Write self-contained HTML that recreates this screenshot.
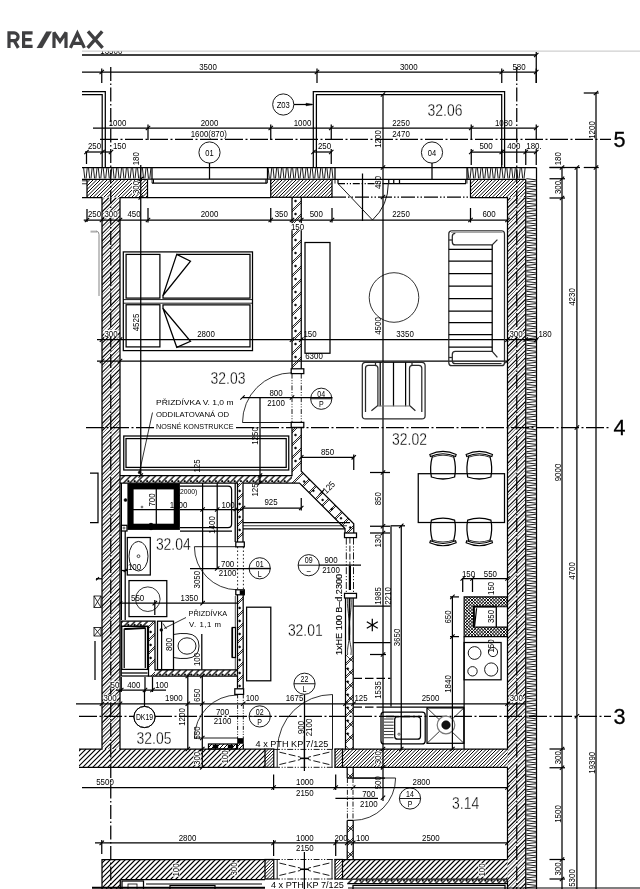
<!DOCTYPE html><html><head><meta charset="utf-8"><title>Floor plan</title><style>html,body{margin:0;padding:0;background:#fff}body{width:640px;height:889px;overflow:hidden;font-family:"Liberation Sans",sans-serif}svg text{stroke:none;fill:#000;font-family:"Liberation Sans",sans-serif}svg text.th{stroke:#fff;stroke-width:.3px;fill:#000}</style></head><body><svg width="640" height="889" viewBox="0 0 640 889" fill="none" stroke="#000" stroke-width="1.25" font-family="Liberation Sans, sans-serif" style="display:block;will-change:transform"><defs><clipPath id="c1"><path d="M87 179.5L147.5 179.5L147.5 197.5L87 197.5Z"/></clipPath><clipPath id="c2"><path d="M102 197.5L120 197.5L120 749L102 749Z"/></clipPath><clipPath id="c3"><path d="M102 197.5L120 197.5L120 749L102 749Z"/></clipPath><clipPath id="c4"><path d="M79 749L265 749L265 767.3L79 767.3Z"/></clipPath><clipPath id="c5"><path d="M270.75 179.5L332 179.5L332 197.3L270.75 197.3Z"/></clipPath><clipPath id="c6"><path d="M470.5 179.5L525.75 179.5L525.75 197.5L470.5 197.5Z"/></clipPath><clipPath id="c7"><path d="M507.5 197.5L525.75 197.5L525.75 889L507.5 889Z"/></clipPath><clipPath id="c8"><path d="M507.5 197.5L525.75 197.5L525.75 889L507.5 889Z"/></clipPath><clipPath id="c9"><path d="M342.5 749L507.5 749L507.5 767.3L342.5 767.3Z"/></clipPath><clipPath id="c10"><path d="M342.5 859.5L507.5 859.5L507.5 879L342.5 879Z"/></clipPath><clipPath id="c11"><path d="M102 859.5L265 859.5L265 879.5L120.3 879.5L120.3 889L102 889Z"/></clipPath><clipPath id="c12"><path d="M265 749L273.75 749L273.75 767.3L265 767.3Z"/></clipPath><clipPath id="c13"><path d="M335 749L342.5 749L342.5 767.3L335 767.3Z"/></clipPath><clipPath id="c14"><path d="M265 859.5L273.75 859.5L273.75 879L265 879Z"/></clipPath><clipPath id="c15"><path d="M335 859.5L342.5 859.5L342.5 879L335 879Z"/></clipPath><clipPath id="ctop"><rect x="82" y="51.6" width="558" height="20"/></clipPath><clipPath id="c16"><path d="M292 197.3L301.25 197.3L301.25 371L292 371Z"/></clipPath><clipPath id="c17"><path d="M292 197.3L301.25 197.3L301.25 371L292 371Z"/></clipPath><clipPath id="c18"><path d="M292 427.4L301.25 427.4L301.25 471.25L292 475.5Z"/></clipPath><clipPath id="c19"><path d="M292 427.4L301.25 427.4L301.25 471.25L292 475.5Z"/></clipPath><clipPath id="c20"><path d="M301.25 471.25L353.75 523.75L353.75 533L345 533L345 528.5L299.5 483L292 483L292 475.5Z"/></clipPath><clipPath id="c21"><path d="M301.25 471.25L353.75 523.75L353.75 533L345 533L345 528.5L299.5 483L292 483L292 475.5Z"/></clipPath><clipPath id="c22"><path d="M120 475.5L292 475.5L292 483L120 483Z"/></clipPath><clipPath id="c23"><path d="M237.5 483L243 483L243 542.3L237.5 542.3Z"/></clipPath><clipPath id="c24"><path d="M237.5 483L243 483L243 542.3L237.5 542.3Z"/></clipPath><clipPath id="c25"><path d="M237.5 594.8L243.2 594.8L243.2 688.8L237.5 688.8Z"/></clipPath><clipPath id="c26"><path d="M237.5 594.8L243.2 594.8L243.2 688.8L237.5 688.8Z"/></clipPath><clipPath id="c27"><path d="M148.5 621.2L155 621.2L155 676L148.5 676Z"/></clipPath><clipPath id="c28"><path d="M148.5 621.2L155 621.2L155 676L148.5 676Z"/></clipPath><clipPath id="c29"><path d="M121.25 621.2L148.5 621.2L148.5 626.3L121.25 626.3Z"/></clipPath><clipPath id="c30"><path d="M155 669.8L237.5 669.8L237.5 676L155 676Z"/></clipPath><clipPath id="c31"><path d="M237.5 743.4L243.3 743.4L243.3 749L237.5 749Z"/></clipPath><clipPath id="c32"><path d="M208.5 744L236.6 744L236.6 749L208.5 749Z"/></clipPath><clipPath id="c33"><path d="M345.5 655L353.2 655L353.2 749L345.5 749Z"/></clipPath><clipPath id="c34"><path d="M345.5 655L353.2 655L353.2 749L345.5 749Z"/></clipPath><clipPath id="c35"><path d="M345.5 655L353.2 655L353.2 749L345.5 749Z"/></clipPath><clipPath id="c36"><path d="M464.1 596.9L507.4 596.9L507.4 606.7L473.9 606.7L473.9 627.1L507.4 627.1L507.4 636.6L464.1 636.6Z"/></clipPath><clipPath id="c37"><path d="M464.1 596.9L507.4 596.9L507.4 606.7L473.9 606.7L473.9 627.1L507.4 627.1L507.4 636.6L464.1 636.6Z"/></clipPath><clipPath id="c38"><path d="M347.2 767.3L353.2 767.3L353.2 778L347.2 778Z"/></clipPath><clipPath id="c39"><path d="M347.2 767.3L353.2 767.3L353.2 778L347.2 778Z"/></clipPath><clipPath id="c40"><path d="M347.2 767.3L353.2 767.3L353.2 778L347.2 778Z"/></clipPath><clipPath id="c41"><path d="M347.2 820.4L353.2 820.4L353.2 859.5L347.2 859.5Z"/></clipPath><clipPath id="c42"><path d="M347.2 820.4L353.2 820.4L353.2 859.5L347.2 859.5Z"/></clipPath><clipPath id="c43"><path d="M347.2 820.4L353.2 820.4L353.2 859.5L347.2 859.5Z"/></clipPath><clipPath id="c44"><path d="M347.2 879L507.5 879L507.5 883.6L347.2 883.6Z"/></clipPath></defs><g><path d="M9 47.9V32.9H14.2a3.9 3.9 0 0 1 0 7.8H9M14.2 40.7L18.3 47.9" stroke-width="3.2" stroke="#3f3f41" stroke-linejoin="miter"/>
<path d="M32.6 32.9H23.6V46.4H32.6M23.6 39.65H31.6" stroke-width="3.2" stroke="#3f3f41"/>
<path d="M36.7 47.9L46.3 31.4H51.8L42.2 47.9Z" stroke-width="0.1" stroke="#3f3f41" fill="#3f3f41"/>
<path d="M54 47.9V32.4L60 41.4L66 32.4V47.9" stroke-width="3.2" stroke="#3f3f41" stroke-linejoin="miter" stroke-miterlimit="2"/>
<path d="M70.4 47.9L77.4 33.199999999999996L84.4 47.9M73 43.3H81.8" stroke-width="3.2" stroke="#3f3f41" stroke-linejoin="miter" stroke-miterlimit="3"/>
<path d="M88 31.4L102.6 47.9M102.2 31.4L87.6 47.9" stroke-width="3.4" stroke="#3f3f41"/>
<path d="M82 51L640 51" stroke="#cfcfcf"/>
<path clip-path="url(#c1)" d="M72 197.5L90 179.5M75.5 197.5L93.5 179.5M79 197.5L97 179.5M82.5 197.5L100.5 179.5M86 197.5L104 179.5M89.5 197.5L107.5 179.5M93 197.5L111 179.5M96.5 197.5L114.5 179.5M100 197.5L118 179.5M103.5 197.5L121.5 179.5M107 197.5L125 179.5M110.5 197.5L128.5 179.5M114 197.5L132 179.5M117.5 197.5L135.5 179.5M121 197.5L139 179.5M124.5 197.5L142.5 179.5M128 197.5L146 179.5M131.5 197.5L149.5 179.5M135 197.5L153 179.5M138.5 197.5L156.5 179.5M142 197.5L160 179.5M145.5 197.5L163.5 179.5" stroke-width="0.98"/>
<path clip-path="url(#c2)" d="M-442.4 749L109.1 197.5M-435.1 749L116.4 197.5M-427.8 749L123.7 197.5M-420.5 749L131 197.5M-413.2 749L138.3 197.5M-405.9 749L145.6 197.5M-398.6 749L152.9 197.5M-391.3 749L160.2 197.5M-384 749L167.5 197.5M-376.7 749L174.8 197.5M-369.4 749L182.1 197.5M-362.1 749L189.4 197.5M-354.8 749L196.7 197.5M-347.5 749L204 197.5M-340.2 749L211.3 197.5M-332.9 749L218.6 197.5M-325.6 749L225.9 197.5M-318.3 749L233.2 197.5M-311 749L240.5 197.5M-303.7 749L247.8 197.5M-296.4 749L255.1 197.5M-289.1 749L262.4 197.5M-281.8 749L269.7 197.5M-274.5 749L277 197.5M-267.2 749L284.3 197.5M-259.9 749L291.6 197.5M-252.6 749L298.9 197.5M-245.3 749L306.2 197.5M-238 749L313.5 197.5M-230.7 749L320.8 197.5M-223.4 749L328.1 197.5M-216.1 749L335.4 197.5M-208.8 749L342.7 197.5M-201.5 749L350 197.5M-194.2 749L357.3 197.5M-186.9 749L364.6 197.5M-179.6 749L371.9 197.5M-172.3 749L379.2 197.5M-165 749L386.5 197.5M-157.7 749L393.8 197.5M-150.4 749L401.1 197.5M-143.1 749L408.4 197.5M-135.8 749L415.7 197.5M-128.5 749L423 197.5M-121.2 749L430.3 197.5M-113.9 749L437.6 197.5M-106.6 749L444.9 197.5M-99.3 749L452.2 197.5M-92 749L459.5 197.5M-84.7 749L466.8 197.5M-77.4 749L474.1 197.5M-70.1 749L481.4 197.5M-62.8 749L488.7 197.5M-55.5 749L496 197.5M-48.2 749L503.3 197.5M-40.9 749L510.6 197.5M-33.6 749L517.9 197.5M-26.3 749L525.2 197.5M-19 749L532.5 197.5M-11.7 749L539.8 197.5M-4.4 749L547.1 197.5M2.9 749L554.4 197.5M10.2 749L561.7 197.5M17.5 749L569 197.5M24.8 749L576.3 197.5M32.1 749L583.6 197.5M39.4 749L590.9 197.5M46.7 749L598.2 197.5M54 749L605.5 197.5M61.3 749L612.8 197.5M68.6 749L620.1 197.5M75.9 749L627.4 197.5M83.2 749L634.7 197.5M90.5 749L642 197.5M97.8 749L649.3 197.5M105.1 749L656.6 197.5M112.4 749L663.9 197.5M119.7 749L671.2 197.5" stroke-width="1.1"/>
<path clip-path="url(#c3)" d="M-446.65 749L104.85 197.5M-439.35 749L112.15 197.5M-432.05 749L119.45 197.5M-424.75 749L126.75 197.5M-417.45 749L134.05 197.5M-410.15 749L141.35 197.5M-402.85 749L148.65 197.5M-395.55 749L155.95 197.5M-388.25 749L163.25 197.5M-380.95 749L170.55 197.5M-373.65 749L177.85 197.5M-366.35 749L185.15 197.5M-359.05 749L192.45 197.5M-351.75 749L199.75 197.5M-344.45 749L207.05 197.5M-337.15 749L214.35 197.5M-329.85 749L221.65 197.5M-322.55 749L228.95 197.5M-315.25 749L236.25 197.5M-307.95 749L243.55 197.5M-300.65 749L250.85 197.5M-293.35 749L258.15 197.5M-286.05 749L265.45 197.5M-278.75 749L272.75 197.5M-271.45 749L280.05 197.5M-264.15 749L287.35 197.5M-256.85 749L294.65 197.5M-249.55 749L301.95 197.5M-242.25 749L309.25 197.5M-234.95 749L316.55 197.5M-227.65 749L323.85 197.5M-220.35 749L331.15 197.5M-213.05 749L338.45 197.5M-205.75 749L345.75 197.5M-198.45 749L353.05 197.5M-191.15 749L360.35 197.5M-183.85 749L367.65 197.5M-176.55 749L374.95 197.5M-169.25 749L382.25 197.5M-161.95 749L389.55 197.5M-154.65 749L396.85 197.5M-147.35 749L404.15 197.5M-140.05 749L411.45 197.5M-132.75 749L418.75 197.5M-125.45 749L426.05 197.5M-118.15 749L433.35 197.5M-110.85 749L440.65 197.5M-103.55 749L447.95 197.5M-96.25 749L455.25 197.5M-88.95 749L462.55 197.5M-81.65 749L469.85 197.5M-74.35 749L477.15 197.5M-67.05 749L484.45 197.5M-59.75 749L491.75 197.5M-52.45 749L499.05 197.5M-45.15 749L506.35 197.5M-37.85 749L513.65 197.5M-30.55 749L520.95 197.5M-23.25 749L528.25 197.5M-15.95 749L535.55 197.5M-8.65 749L542.85 197.5M-1.35 749L550.15 197.5M5.95 749L557.45 197.5M13.25 749L564.75 197.5M20.55 749L572.05 197.5M27.85 749L579.35 197.5M35.15 749L586.65 197.5M42.45 749L593.95 197.5M49.75 749L601.25 197.5M57.05 749L608.55 197.5M64.35 749L615.85 197.5M71.65 749L623.15 197.5M78.95 749L630.45 197.5M86.25 749L637.75 197.5M93.55 749L645.05 197.5M100.85 749L652.35 197.5M108.15 749L659.65 197.5M115.45 749L666.95 197.5" stroke-width="0.75" stroke="#444"/>
<path clip-path="url(#c4)" d="M62.7 767.3L81 749M67.7 767.3L86 749M72.7 767.3L91 749M77.7 767.3L96 749M82.7 767.3L101 749M87.7 767.3L106 749M92.7 767.3L111 749M97.7 767.3L116 749M102.7 767.3L121 749M107.7 767.3L126 749M112.7 767.3L131 749M117.7 767.3L136 749M122.7 767.3L141 749M127.7 767.3L146 749M132.7 767.3L151 749M137.7 767.3L156 749M142.7 767.3L161 749M147.7 767.3L166 749M152.7 767.3L171 749M157.7 767.3L176 749M162.7 767.3L181 749M167.7 767.3L186 749M172.7 767.3L191 749M177.7 767.3L196 749M182.7 767.3L201 749M187.7 767.3L206 749M192.7 767.3L211 749M197.7 767.3L216 749M202.7 767.3L221 749M207.7 767.3L226 749M212.7 767.3L231 749M217.7 767.3L236 749M222.7 767.3L241 749M227.7 767.3L246 749M232.7 767.3L251 749M237.7 767.3L256 749M242.7 767.3L261 749M247.7 767.3L266 749M252.7 767.3L271 749M257.7 767.3L276 749M262.7 767.3L281 749" stroke-width="1.08"/>
<path clip-path="url(#c5)" d="M254.2 197.3L272 179.5M257.7 197.3L275.5 179.5M261.2 197.3L279 179.5M264.7 197.3L282.5 179.5M268.2 197.3L286 179.5M271.7 197.3L289.5 179.5M275.2 197.3L293 179.5M278.7 197.3L296.5 179.5M282.2 197.3L300 179.5M285.7 197.3L303.5 179.5M289.2 197.3L307 179.5M292.7 197.3L310.5 179.5M296.2 197.3L314 179.5M299.7 197.3L317.5 179.5M303.2 197.3L321 179.5M306.7 197.3L324.5 179.5M310.2 197.3L328 179.5M313.7 197.3L331.5 179.5M317.2 197.3L335 179.5M320.7 197.3L338.5 179.5M324.2 197.3L342 179.5M327.7 197.3L345.5 179.5M331.2 197.3L349 179.5" stroke-width="0.98"/>
<path clip-path="url(#c6)" d="M453.5 197.5L471.5 179.5M457 197.5L475 179.5M460.5 197.5L478.5 179.5M464 197.5L482 179.5M467.5 197.5L485.5 179.5M471 197.5L489 179.5M474.5 197.5L492.5 179.5M478 197.5L496 179.5M481.5 197.5L499.5 179.5M485 197.5L503 179.5M488.5 197.5L506.5 179.5M492 197.5L510 179.5M495.5 197.5L513.5 179.5M499 197.5L517 179.5M502.5 197.5L520.5 179.5M506 197.5L524 179.5M509.5 197.5L527.5 179.5M513 197.5L531 179.5M516.5 197.5L534.5 179.5M520 197.5L538 179.5M523.5 197.5L541.5 179.5" stroke-width="0.98"/>
<path clip-path="url(#c7)" d="M-180.9 889L510.6 197.5M-173.6 889L517.9 197.5M-166.3 889L525.2 197.5M-159 889L532.5 197.5M-151.7 889L539.8 197.5M-144.4 889L547.1 197.5M-137.1 889L554.4 197.5M-129.8 889L561.7 197.5M-122.5 889L569 197.5M-115.2 889L576.3 197.5M-107.9 889L583.6 197.5M-100.6 889L590.9 197.5M-93.3 889L598.2 197.5M-86 889L605.5 197.5M-78.7 889L612.8 197.5M-71.4 889L620.1 197.5M-64.1 889L627.4 197.5M-56.8 889L634.7 197.5M-49.5 889L642 197.5M-42.2 889L649.3 197.5M-34.9 889L656.6 197.5M-27.6 889L663.9 197.5M-20.3 889L671.2 197.5M-13 889L678.5 197.5M-5.7 889L685.8 197.5M1.6 889L693.1 197.5M8.9 889L700.4 197.5M16.2 889L707.7 197.5M23.5 889L715 197.5M30.8 889L722.3 197.5M38.1 889L729.6 197.5M45.4 889L736.9 197.5M52.7 889L744.2 197.5M60 889L751.5 197.5M67.3 889L758.8 197.5M74.6 889L766.1 197.5M81.9 889L773.4 197.5M89.2 889L780.7 197.5M96.5 889L788 197.5M103.8 889L795.3 197.5M111.1 889L802.6 197.5M118.4 889L809.9 197.5M125.7 889L817.2 197.5M133 889L824.5 197.5M140.3 889L831.8 197.5M147.6 889L839.1 197.5M154.9 889L846.4 197.5M162.2 889L853.7 197.5M169.5 889L861 197.5M176.8 889L868.3 197.5M184.1 889L875.6 197.5M191.4 889L882.9 197.5M198.7 889L890.2 197.5M206 889L897.5 197.5M213.3 889L904.8 197.5M220.6 889L912.1 197.5M227.9 889L919.4 197.5M235.2 889L926.7 197.5M242.5 889L934 197.5M249.8 889L941.3 197.5M257.1 889L948.6 197.5M264.4 889L955.9 197.5M271.7 889L963.2 197.5M279 889L970.5 197.5M286.3 889L977.8 197.5M293.6 889L985.1 197.5M300.9 889L992.4 197.5M308.2 889L999.7 197.5M315.5 889L1007 197.5M322.8 889L1014.3 197.5M330.1 889L1021.6 197.5M337.4 889L1028.9 197.5M344.7 889L1036.2 197.5M352 889L1043.5 197.5M359.3 889L1050.8 197.5M366.6 889L1058.1 197.5M373.9 889L1065.4 197.5M381.2 889L1072.7 197.5M388.5 889L1080 197.5M395.8 889L1087.3 197.5M403.1 889L1094.6 197.5M410.4 889L1101.9 197.5M417.7 889L1109.2 197.5M425 889L1116.5 197.5M432.3 889L1123.8 197.5M439.6 889L1131.1 197.5M446.9 889L1138.4 197.5M454.2 889L1145.7 197.5M461.5 889L1153 197.5M468.8 889L1160.3 197.5M476.1 889L1167.6 197.5M483.4 889L1174.9 197.5M490.7 889L1182.2 197.5M498 889L1189.5 197.5M505.3 889L1196.8 197.5M512.6 889L1204.1 197.5M519.9 889L1211.4 197.5" stroke-width="1.1"/>
<path clip-path="url(#c8)" d="M-177.85 889L513.65 197.5M-170.55 889L520.95 197.5M-163.25 889L528.25 197.5M-155.95 889L535.55 197.5M-148.65 889L542.85 197.5M-141.35 889L550.15 197.5M-134.05 889L557.45 197.5M-126.75 889L564.75 197.5M-119.45 889L572.05 197.5M-112.15 889L579.35 197.5M-104.85 889L586.65 197.5M-97.55 889L593.95 197.5M-90.25 889L601.25 197.5M-82.95 889L608.55 197.5M-75.65 889L615.85 197.5M-68.35 889L623.15 197.5M-61.05 889L630.45 197.5M-53.75 889L637.75 197.5M-46.45 889L645.05 197.5M-39.15 889L652.35 197.5M-31.85 889L659.65 197.5M-24.55 889L666.95 197.5M-17.25 889L674.25 197.5M-9.95 889L681.55 197.5M-2.65 889L688.85 197.5M4.65 889L696.15 197.5M11.95 889L703.45 197.5M19.25 889L710.75 197.5M26.55 889L718.05 197.5M33.85 889L725.35 197.5M41.15 889L732.65 197.5M48.45 889L739.95 197.5M55.75 889L747.25 197.5M63.05 889L754.55 197.5M70.35 889L761.85 197.5M77.65 889L769.15 197.5M84.95 889L776.45 197.5M92.25 889L783.75 197.5M99.55 889L791.05 197.5M106.85 889L798.35 197.5M114.15 889L805.65 197.5M121.45 889L812.95 197.5M128.75 889L820.25 197.5M136.05 889L827.55 197.5M143.35 889L834.85 197.5M150.65 889L842.15 197.5M157.95 889L849.45 197.5M165.25 889L856.75 197.5M172.55 889L864.05 197.5M179.85 889L871.35 197.5M187.15 889L878.65 197.5M194.45 889L885.95 197.5M201.75 889L893.25 197.5M209.05 889L900.55 197.5M216.35 889L907.85 197.5M223.65 889L915.15 197.5M230.95 889L922.45 197.5M238.25 889L929.75 197.5M245.55 889L937.05 197.5M252.85 889L944.35 197.5M260.15 889L951.65 197.5M267.45 889L958.95 197.5M274.75 889L966.25 197.5M282.05 889L973.55 197.5M289.35 889L980.85 197.5M296.65 889L988.15 197.5M303.95 889L995.45 197.5M311.25 889L1002.75 197.5M318.55 889L1010.05 197.5M325.85 889L1017.35 197.5M333.15 889L1024.65 197.5M340.45 889L1031.95 197.5M347.75 889L1039.25 197.5M355.05 889L1046.55 197.5M362.35 889L1053.85 197.5M369.65 889L1061.15 197.5M376.95 889L1068.45 197.5M384.25 889L1075.75 197.5M391.55 889L1083.05 197.5M398.85 889L1090.35 197.5M406.15 889L1097.65 197.5M413.45 889L1104.95 197.5M420.75 889L1112.25 197.5M428.05 889L1119.55 197.5M435.35 889L1126.85 197.5M442.65 889L1134.15 197.5M449.95 889L1141.45 197.5M457.25 889L1148.75 197.5M464.55 889L1156.05 197.5M471.85 889L1163.35 197.5M479.15 889L1170.65 197.5M486.45 889L1177.95 197.5M493.75 889L1185.25 197.5M501.05 889L1192.55 197.5M508.35 889L1199.85 197.5M515.65 889L1207.15 197.5M522.95 889L1214.45 197.5" stroke-width="0.75" stroke="#444"/>
<path clip-path="url(#c9)" d="M324.7 767.3L343 749M328.2 767.3L346.5 749M331.7 767.3L350 749M335.2 767.3L353.5 749M338.7 767.3L357 749M342.2 767.3L360.5 749M345.7 767.3L364 749M349.2 767.3L367.5 749M352.7 767.3L371 749M356.2 767.3L374.5 749M359.7 767.3L378 749M363.2 767.3L381.5 749M366.7 767.3L385 749M370.2 767.3L388.5 749M373.7 767.3L392 749M377.2 767.3L395.5 749M380.7 767.3L399 749M384.2 767.3L402.5 749M387.7 767.3L406 749M391.2 767.3L409.5 749M394.7 767.3L413 749M398.2 767.3L416.5 749M401.7 767.3L420 749M405.2 767.3L423.5 749M408.7 767.3L427 749M412.2 767.3L430.5 749M415.7 767.3L434 749M419.2 767.3L437.5 749M422.7 767.3L441 749M426.2 767.3L444.5 749M429.7 767.3L448 749M433.2 767.3L451.5 749M436.7 767.3L455 749M440.2 767.3L458.5 749M443.7 767.3L462 749M447.2 767.3L465.5 749M450.7 767.3L469 749M454.2 767.3L472.5 749M457.7 767.3L476 749M461.2 767.3L479.5 749M464.7 767.3L483 749M468.2 767.3L486.5 749M471.7 767.3L490 749M475.2 767.3L493.5 749M478.7 767.3L497 749M482.2 767.3L500.5 749M485.7 767.3L504 749M489.2 767.3L507.5 749M492.7 767.3L511 749M496.2 767.3L514.5 749M499.7 767.3L518 749M503.2 767.3L521.5 749M506.7 767.3L525 749" stroke-width="0.98"/>
<path clip-path="url(#c10)" d="M326 879L345.5 859.5M331 879L350.5 859.5M336 879L355.5 859.5M341 879L360.5 859.5M346 879L365.5 859.5M351 879L370.5 859.5M356 879L375.5 859.5M361 879L380.5 859.5M366 879L385.5 859.5M371 879L390.5 859.5M376 879L395.5 859.5M381 879L400.5 859.5M386 879L405.5 859.5M391 879L410.5 859.5M396 879L415.5 859.5M401 879L420.5 859.5M406 879L425.5 859.5M411 879L430.5 859.5M416 879L435.5 859.5M421 879L440.5 859.5M426 879L445.5 859.5M431 879L450.5 859.5M436 879L455.5 859.5M441 879L460.5 859.5M446 879L465.5 859.5M451 879L470.5 859.5M456 879L475.5 859.5M461 879L480.5 859.5M466 879L485.5 859.5M471 879L490.5 859.5M476 879L495.5 859.5M481 879L500.5 859.5M486 879L505.5 859.5M491 879L510.5 859.5M496 879L515.5 859.5M501 879L520.5 859.5M506 879L525.5 859.5" stroke-width="1.08"/>
<path clip-path="url(#c11)" d="M76 889L105.5 859.5M81 889L110.5 859.5M86 889L115.5 859.5M91 889L120.5 859.5M96 889L125.5 859.5M101 889L130.5 859.5M106 889L135.5 859.5M111 889L140.5 859.5M116 889L145.5 859.5M121 889L150.5 859.5M126 889L155.5 859.5M131 889L160.5 859.5M136 889L165.5 859.5M141 889L170.5 859.5M146 889L175.5 859.5M151 889L180.5 859.5M156 889L185.5 859.5M161 889L190.5 859.5M166 889L195.5 859.5M171 889L200.5 859.5M176 889L205.5 859.5M181 889L210.5 859.5M186 889L215.5 859.5M191 889L220.5 859.5M196 889L225.5 859.5M201 889L230.5 859.5M206 889L235.5 859.5M211 889L240.5 859.5M216 889L245.5 859.5M221 889L250.5 859.5M226 889L255.5 859.5M231 889L260.5 859.5M236 889L265.5 859.5M241 889L270.5 859.5M246 889L275.5 859.5M251 889L280.5 859.5M256 889L285.5 859.5M261 889L290.5 859.5" stroke-width="1.08"/>
<path clip-path="url(#c12)" d="M247.1 767.3L265.4 749M250.3 767.3L268.6 749M253.5 767.3L271.8 749M256.7 767.3L275 749M259.9 767.3L278.2 749M263.1 767.3L281.4 749M266.3 767.3L284.6 749M269.5 767.3L287.8 749M272.7 767.3L291 749" stroke-width="0.9"/>
<rect x="265" y="749" width="8.75" height="18.3"/>
<path clip-path="url(#c13)" d="M317.5 767.3L335.8 749M320.7 767.3L339 749M323.9 767.3L342.2 749M327.1 767.3L345.4 749M330.3 767.3L348.6 749M333.5 767.3L351.8 749M336.7 767.3L355 749M339.9 767.3L358.2 749" stroke-width="0.9"/>
<rect x="335" y="749" width="7.5" height="18.3"/>
<path clip-path="url(#c14)" d="M247.4 879L266.9 859.5M250.6 879L270.1 859.5M253.8 879L273.3 859.5M257 879L276.5 859.5M260.2 879L279.7 859.5M263.4 879L282.9 859.5M266.6 879L286.1 859.5M269.8 879L289.3 859.5M273 879L292.5 859.5" stroke-width="0.9"/>
<rect x="265" y="859.5" width="8.75" height="19.5"/>
<path clip-path="url(#c15)" d="M317.8 879L337.3 859.5M321 879L340.5 859.5M324.2 879L343.7 859.5M327.4 879L346.9 859.5M330.6 879L350.1 859.5M333.8 879L353.3 859.5M337 879L356.5 859.5M340.2 879L359.7 859.5" stroke-width="0.9"/>
<rect x="335" y="859.5" width="7.5" height="19.5"/>
<path d="M82 179.3L147.5 179.3" stroke-width="1.3"/>
<path d="M82 180.8L87 180.8" stroke-width="0.8"/>
<path d="M82 183.75L87 183.75" stroke-width="0.8"/>
<path d="M147.5 179.2L147.5 197.5L120 197.5L120 749L265 749"/>
<path d="M82 197.5L102 197.5L102 749L79 749"/>
<path d="M87 179.5L87 197.5"/>
<path d="M79 767.3L265 767.3"/>
<rect x="270.75" y="179.3" width="61.25" height="18"/>
<path d="M470.5 179.3L470.5 197.5L507.5 197.5L507.5 749L342.5 749"/>
<path d="M342.5 767.3L507.5 767.3"/>
<path d="M507.5 767.3L507.5 859.5"/>
<path d="M342.5 859.5L507.5 859.5"/>
<path d="M342.5 879L507.5 879"/>
<path d="M507.5 879L507.5 889"/>
<path d="M525.75 179.3L525.75 889"/>
<path d="M467 179.3L525.75 179.3"/>
<path d="M102 889L102 859.5L265 859.5"/>
<path d="M120.3 879.5L265 879.5"/>
<path d="M120.3 879.5L120.3 889"/>
<path d="M82 167.5L536.5 167.5"/>
<path d="M536.5 167.5L536.5 889"/>
<path d="M83.65 168.1L84.75 178.4M87.2 168.1L86.1 178.4M88.55 168.1L89.65 178.4M92.1 168.1L91 178.4M93.45 168.1L94.55 178.4M97 168.1L95.9 178.4M98.35 168.1L99.45 178.4M101.9 168.1L100.8 178.4M103.25 168.1L104.35 178.4M106.8 168.1L105.7 178.4M108.15 168.1L109.25 178.4M111.7 168.1L110.6 178.4M113.05 168.1L114.15 178.4M116.6 168.1L115.5 178.4M117.95 168.1L119.05 178.4M121.5 168.1L120.4 178.4M122.85 168.1L123.95 178.4M126.4 168.1L125.3 178.4M127.75 168.1L128.85 178.4M131.3 168.1L130.2 178.4M132.65 168.1L133.75 178.4M136.2 168.1L135.1 178.4M137.55 168.1L138.65 178.4M141.1 168.1L140 178.4M142.45 168.1L143.55 178.4M146 168.1L144.9 178.4M147.35 168.1L148.45 178.4M150.9 168.1L149.8 178.4" stroke-width="0.9"/>
<path d="M152 167.5L152 179.2"/>
<path d="M268.15 168.1L269.25 178.4M271.7 168.1L270.6 178.4M273.05 168.1L274.15 178.4M276.6 168.1L275.5 178.4M277.95 168.1L279.05 178.4M281.5 168.1L280.4 178.4M282.85 168.1L283.95 178.4M286.4 168.1L285.3 178.4M287.75 168.1L288.85 178.4M291.3 168.1L290.2 178.4M292.65 168.1L293.75 178.4M296.2 168.1L295.1 178.4M297.55 168.1L298.65 178.4M301.1 168.1L300 178.4M302.45 168.1L303.55 178.4M306 168.1L304.9 178.4M307.35 168.1L308.45 178.4M310.9 168.1L309.8 178.4M312.25 168.1L313.35 178.4M315.8 168.1L314.7 178.4M317.15 168.1L318.25 178.4M320.7 168.1L319.6 178.4M322.05 168.1L323.15 178.4M325.6 168.1L324.5 178.4M326.95 168.1L328.05 178.4M330.5 168.1L329.4 178.4M331.85 168.1L332.95 178.4" stroke-width="0.9"/>
<path d="M267.5 167.5L267.5 179.2"/>
<path d="M335 167.5L335 179.2"/>
<path d="M467.65 168.1L468.75 178.4M471.2 168.1L470.1 178.4M472.55 168.1L473.65 178.4M476.1 168.1L475 178.4M477.45 168.1L478.55 178.4M481 168.1L479.9 178.4M482.35 168.1L483.45 178.4M485.9 168.1L484.8 178.4M487.25 168.1L488.35 178.4M490.8 168.1L489.7 178.4M492.15 168.1L493.25 178.4M495.7 168.1L494.6 178.4M497.05 168.1L498.15 178.4M500.6 168.1L499.5 178.4M501.95 168.1L503.05 178.4M505.5 168.1L504.4 178.4M506.85 168.1L507.95 178.4M510.4 168.1L509.3 178.4M511.75 168.1L512.85 178.4M515.3 168.1L514.2 178.4M516.65 168.1L517.75 178.4M520.2 168.1L519.1 178.4M521.55 168.1L522.65 178.4M525.1 168.1L524 178.4" stroke-width="0.9"/>
<path d="M467 167.5L467 179.2"/>
<path d="M526.35 178.65L535.9 179.75M526.35 182.2L535.9 181.1M526.35 183.55L535.9 184.65M526.35 187.1L535.9 186M526.35 188.45L535.9 189.55M526.35 192L535.9 190.9M526.35 193.35L535.9 194.45M526.35 196.9L535.9 195.8M526.35 198.25L535.9 199.35M526.35 201.8L535.9 200.7M526.35 203.15L535.9 204.25M526.35 206.7L535.9 205.6M526.35 208.05L535.9 209.15M526.35 211.6L535.9 210.5M526.35 212.95L535.9 214.05M526.35 216.5L535.9 215.4M526.35 217.85L535.9 218.95M526.35 221.4L535.9 220.3M526.35 222.75L535.9 223.85M526.35 226.3L535.9 225.2M526.35 227.65L535.9 228.75M526.35 231.2L535.9 230.1M526.35 232.55L535.9 233.65M526.35 236.1L535.9 235M526.35 237.45L535.9 238.55M526.35 241L535.9 239.9M526.35 242.35L535.9 243.45M526.35 245.9L535.9 244.8M526.35 247.25L535.9 248.35M526.35 250.8L535.9 249.7M526.35 252.15L535.9 253.25M526.35 255.7L535.9 254.6M526.35 257.05L535.9 258.15M526.35 260.6L535.9 259.5M526.35 261.95L535.9 263.05M526.35 265.5L535.9 264.4M526.35 266.85L535.9 267.95M526.35 270.4L535.9 269.3M526.35 271.75L535.9 272.85M526.35 275.3L535.9 274.2M526.35 276.65L535.9 277.75M526.35 280.2L535.9 279.1M526.35 281.55L535.9 282.65M526.35 285.1L535.9 284M526.35 286.45L535.9 287.55M526.35 290L535.9 288.9M526.35 291.35L535.9 292.45M526.35 294.9L535.9 293.8M526.35 296.25L535.9 297.35M526.35 299.8L535.9 298.7M526.35 301.15L535.9 302.25M526.35 304.7L535.9 303.6M526.35 306.05L535.9 307.15M526.35 309.6L535.9 308.5M526.35 310.95L535.9 312.05M526.35 314.5L535.9 313.4M526.35 315.85L535.9 316.95M526.35 319.4L535.9 318.3M526.35 320.75L535.9 321.85M526.35 324.3L535.9 323.2M526.35 325.65L535.9 326.75M526.35 329.2L535.9 328.1M526.35 330.55L535.9 331.65M526.35 334.1L535.9 333M526.35 335.45L535.9 336.55M526.35 339L535.9 337.9M526.35 340.35L535.9 341.45M526.35 343.9L535.9 342.8M526.35 345.25L535.9 346.35M526.35 348.8L535.9 347.7M526.35 350.15L535.9 351.25M526.35 353.7L535.9 352.6M526.35 355.05L535.9 356.15M526.35 358.6L535.9 357.5M526.35 359.95L535.9 361.05M526.35 363.5L535.9 362.4M526.35 364.85L535.9 365.95M526.35 368.4L535.9 367.3M526.35 369.75L535.9 370.85M526.35 373.3L535.9 372.2M526.35 374.65L535.9 375.75M526.35 378.2L535.9 377.1M526.35 379.55L535.9 380.65M526.35 383.1L535.9 382M526.35 384.45L535.9 385.55M526.35 388L535.9 386.9M526.35 389.35L535.9 390.45M526.35 392.9L535.9 391.8M526.35 394.25L535.9 395.35M526.35 397.8L535.9 396.7M526.35 399.15L535.9 400.25M526.35 402.7L535.9 401.6M526.35 404.05L535.9 405.15M526.35 407.6L535.9 406.5M526.35 408.95L535.9 410.05M526.35 412.5L535.9 411.4M526.35 413.85L535.9 414.95M526.35 417.4L535.9 416.3M526.35 418.75L535.9 419.85M526.35 422.3L535.9 421.2M526.35 423.65L535.9 424.75M526.35 427.2L535.9 426.1M526.35 428.55L535.9 429.65M526.35 432.1L535.9 431M526.35 433.45L535.9 434.55M526.35 437L535.9 435.9M526.35 438.35L535.9 439.45M526.35 441.9L535.9 440.8M526.35 443.25L535.9 444.35M526.35 446.8L535.9 445.7M526.35 448.15L535.9 449.25M526.35 451.7L535.9 450.6M526.35 453.05L535.9 454.15M526.35 456.6L535.9 455.5M526.35 457.95L535.9 459.05M526.35 461.5L535.9 460.4M526.35 462.85L535.9 463.95M526.35 466.4L535.9 465.3M526.35 467.75L535.9 468.85M526.35 471.3L535.9 470.2M526.35 472.65L535.9 473.75M526.35 476.2L535.9 475.1M526.35 477.55L535.9 478.65M526.35 481.1L535.9 480M526.35 482.45L535.9 483.55M526.35 486L535.9 484.9M526.35 487.35L535.9 488.45M526.35 490.9L535.9 489.8M526.35 492.25L535.9 493.35M526.35 495.8L535.9 494.7M526.35 497.15L535.9 498.25M526.35 500.7L535.9 499.6M526.35 502.05L535.9 503.15M526.35 505.6L535.9 504.5M526.35 506.95L535.9 508.05M526.35 510.5L535.9 509.4M526.35 511.85L535.9 512.95M526.35 515.4L535.9 514.3M526.35 516.75L535.9 517.85M526.35 520.3L535.9 519.2M526.35 521.65L535.9 522.75M526.35 525.2L535.9 524.1M526.35 526.55L535.9 527.65M526.35 530.1L535.9 529M526.35 531.45L535.9 532.55M526.35 535L535.9 533.9M526.35 536.35L535.9 537.45M526.35 539.9L535.9 538.8M526.35 541.25L535.9 542.35M526.35 544.8L535.9 543.7M526.35 546.15L535.9 547.25M526.35 549.7L535.9 548.6M526.35 551.05L535.9 552.15M526.35 554.6L535.9 553.5M526.35 555.95L535.9 557.05M526.35 559.5L535.9 558.4M526.35 560.85L535.9 561.95M526.35 564.4L535.9 563.3M526.35 565.75L535.9 566.85M526.35 569.3L535.9 568.2M526.35 570.65L535.9 571.75M526.35 574.2L535.9 573.1M526.35 575.55L535.9 576.65M526.35 579.1L535.9 578M526.35 580.45L535.9 581.55M526.35 584L535.9 582.9M526.35 585.35L535.9 586.45M526.35 588.9L535.9 587.8M526.35 590.25L535.9 591.35M526.35 593.8L535.9 592.7M526.35 595.15L535.9 596.25M526.35 598.7L535.9 597.6M526.35 600.05L535.9 601.15M526.35 603.6L535.9 602.5M526.35 604.95L535.9 606.05M526.35 608.5L535.9 607.4M526.35 609.85L535.9 610.95M526.35 613.4L535.9 612.3M526.35 614.75L535.9 615.85M526.35 618.3L535.9 617.2M526.35 619.65L535.9 620.75M526.35 623.2L535.9 622.1M526.35 624.55L535.9 625.65M526.35 628.1L535.9 627M526.35 629.45L535.9 630.55M526.35 633L535.9 631.9M526.35 634.35L535.9 635.45M526.35 637.9L535.9 636.8M526.35 639.25L535.9 640.35M526.35 642.8L535.9 641.7M526.35 644.15L535.9 645.25M526.35 647.7L535.9 646.6M526.35 649.05L535.9 650.15M526.35 652.6L535.9 651.5M526.35 653.95L535.9 655.05M526.35 657.5L535.9 656.4M526.35 658.85L535.9 659.95M526.35 662.4L535.9 661.3M526.35 663.75L535.9 664.85M526.35 667.3L535.9 666.2M526.35 668.65L535.9 669.75M526.35 672.2L535.9 671.1M526.35 673.55L535.9 674.65M526.35 677.1L535.9 676M526.35 678.45L535.9 679.55M526.35 682L535.9 680.9M526.35 683.35L535.9 684.45M526.35 686.9L535.9 685.8M526.35 688.25L535.9 689.35M526.35 691.8L535.9 690.7M526.35 693.15L535.9 694.25M526.35 696.7L535.9 695.6M526.35 698.05L535.9 699.15M526.35 701.6L535.9 700.5M526.35 702.95L535.9 704.05M526.35 706.5L535.9 705.4M526.35 707.85L535.9 708.95M526.35 711.4L535.9 710.3M526.35 712.75L535.9 713.85M526.35 716.3L535.9 715.2M526.35 717.65L535.9 718.75M526.35 721.2L535.9 720.1M526.35 722.55L535.9 723.65M526.35 726.1L535.9 725M526.35 727.45L535.9 728.55M526.35 731L535.9 729.9M526.35 732.35L535.9 733.45M526.35 735.9L535.9 734.8M526.35 737.25L535.9 738.35M526.35 740.8L535.9 739.7M526.35 742.15L535.9 743.25M526.35 745.7L535.9 744.6M526.35 747.05L535.9 748.15M526.35 750.6L535.9 749.5M526.35 751.95L535.9 753.05M526.35 755.5L535.9 754.4M526.35 756.85L535.9 757.95M526.35 760.4L535.9 759.3M526.35 761.75L535.9 762.85M526.35 765.3L535.9 764.2M526.35 766.65L535.9 767.75M526.35 770.2L535.9 769.1M526.35 771.55L535.9 772.65M526.35 775.1L535.9 774M526.35 776.45L535.9 777.55M526.35 780L535.9 778.9M526.35 781.35L535.9 782.45M526.35 784.9L535.9 783.8M526.35 786.25L535.9 787.35M526.35 789.8L535.9 788.7M526.35 791.15L535.9 792.25M526.35 794.7L535.9 793.6M526.35 796.05L535.9 797.15M526.35 799.6L535.9 798.5M526.35 800.95L535.9 802.05M526.35 804.5L535.9 803.4M526.35 805.85L535.9 806.95M526.35 809.4L535.9 808.3M526.35 810.75L535.9 811.85M526.35 814.3L535.9 813.2M526.35 815.65L535.9 816.75M526.35 819.2L535.9 818.1M526.35 820.55L535.9 821.65M526.35 824.1L535.9 823M526.35 825.45L535.9 826.55M526.35 829L535.9 827.9M526.35 830.35L535.9 831.45M526.35 833.9L535.9 832.8M526.35 835.25L535.9 836.35M526.35 838.8L535.9 837.7M526.35 840.15L535.9 841.25M526.35 843.7L535.9 842.6M526.35 845.05L535.9 846.15M526.35 848.6L535.9 847.5M526.35 849.95L535.9 851.05M526.35 853.5L535.9 852.4M526.35 854.85L535.9 855.95M526.35 858.4L535.9 857.3M526.35 859.75L535.9 860.85M526.35 863.3L535.9 862.2M526.35 864.65L535.9 865.75M526.35 868.2L535.9 867.1M526.35 869.55L535.9 870.65M526.35 873.1L535.9 872M526.35 874.45L535.9 875.55M526.35 878L535.9 876.9M526.35 879.35L535.9 880.45M526.35 882.9L535.9 881.8M526.35 884.25L535.9 885.35M526.35 887.8L535.9 886.7" stroke-width="0.9"/>
<path d="M110.75 67L110.75 889" stroke-dasharray="14 2.5 1.5 2.5"/>
<path d="M516.75 67L516.75 889" stroke-dasharray="14 2.5 1.5 2.5"/>
<path d="M100 139.25L611 139.25" stroke-dasharray="18 2.5 2 2.5"/>
<text x="619.4" y="147.15" font-size="21.6" text-anchor="middle" style="stroke:#000;stroke-width:.3px">5</text>
<path d="M86 427.5L611 427.5" stroke-dasharray="18 2.5 2 2.5"/>
<text x="619.4" y="435.4" font-size="21.6" text-anchor="middle" style="stroke:#000;stroke-width:.3px">4</text>
<path d="M79 716.25L611 716.25" stroke-dasharray="18 2.5 2 2.5"/>
<text x="619.4" y="724.15" font-size="21.6" text-anchor="middle" style="stroke:#000;stroke-width:.3px">3</text>
<g clip-path="url(#ctop)">
<text transform="translate(111.3 54.3) scale(0.9 1)" font-size="8.8" text-anchor="middle">13500</text>
</g>
<path d="M82 55L536.25 55" stroke-width="1.5"/>
<path d="M534.05 57.2L538.45 52.8" stroke-width="1.1"/>
<path d="M536.25 52L536.25 83"/>
<path d="M82 72L536.25 72"/>
<path d="M99.55 74.2L103.95 69.8" stroke-width="1.1"/>
<path d="M101.75 68.5L101.75 83"/>
<path d="M314.8 74.2L319.2 69.8" stroke-width="1.1"/>
<path d="M317 68.5L317 83"/>
<path d="M499.55 74.2L503.95 69.8" stroke-width="1.1"/>
<path d="M501.75 68.5L501.75 83"/>
<path d="M534.05 74.2L538.45 69.8" stroke-width="1.1"/>
<path d="M536.25 68.5L536.25 83"/>
<text transform="translate(208 69.7) scale(0.9 1)" font-size="8.8" text-anchor="middle">3500</text>
<text transform="translate(408.75 69.7) scale(0.9 1)" font-size="8.8" text-anchor="middle">3000</text>
<text transform="translate(519 69.7) scale(0.9 1)" font-size="8.8" text-anchor="middle">580</text>
<path d="M93 128L536.25 128"/>
<path d="M145.8 130.2L150.2 125.8" stroke-width="1.1"/>
<path d="M148 124.5L148 140"/>
<path d="M268.55 130.2L272.95 125.8" stroke-width="1.1"/>
<path d="M270.75 124.5L270.75 140"/>
<path d="M329.05 130.2L333.45 125.8" stroke-width="1.1"/>
<path d="M331.25 124.5L331.25 140"/>
<path d="M469.05 130.2L473.45 125.8" stroke-width="1.1"/>
<path d="M471.25 124.5L471.25 140"/>
<path d="M534.05 130.2L538.45 125.8" stroke-width="1.1"/>
<path d="M536.25 124.5L536.25 140"/>
<text transform="translate(117.5 126.1) scale(0.9 1)" font-size="8.8" text-anchor="middle">1000</text>
<text transform="translate(209.5 126.1) scale(0.9 1)" font-size="8.8" text-anchor="middle">2000</text>
<text transform="translate(208.75 137.2) scale(0.9 1)" font-size="8.8" text-anchor="middle">1600(870)</text>
<text transform="translate(302.5 126.1) scale(0.9 1)" font-size="8.8" text-anchor="middle">1000</text>
<text transform="translate(401 126.1) scale(0.9 1)" font-size="8.8" text-anchor="middle">2250</text>
<text transform="translate(401 137) scale(0.9 1)" font-size="8.8" text-anchor="middle">2470</text>
<text transform="translate(503.75 126.1) scale(0.9 1)" font-size="8.8" text-anchor="middle">1080</text>
<path d="M85 152L111.25 152"/>
<path d="M84.3 154.2L88.7 149.8" stroke-width="1.1"/>
<path d="M100.3 154.2L104.7 149.8" stroke-width="1.1"/>
<path d="M108.8 154.2L113.2 149.8" stroke-width="1.1"/>
<path d="M86.5 152L86.5 164"/>
<text transform="translate(94.5 149.3) scale(0.9 1)" font-size="8.8" text-anchor="middle">250</text>
<text transform="translate(119.5 149.3) scale(0.9 1)" font-size="8.8" text-anchor="middle">150</text>
<path d="M313.5 152L331.25 152"/>
<path d="M311.3 154.2L315.7 149.8" stroke-width="1.1"/>
<path d="M329.05 154.2L333.45 149.8" stroke-width="1.1"/>
<path d="M331.25 149L331.25 164"/>
<text transform="translate(324.5 149.3) scale(0.9 1)" font-size="8.8" text-anchor="middle">250</text>
<path d="M471.25 152L536.25 152"/>
<path d="M469.05 154.2L473.45 149.8" stroke-width="1.1"/>
<path d="M471.25 149L471.25 165"/>
<path d="M499.55 154.2L503.95 149.8" stroke-width="1.1"/>
<path d="M501.75 149L501.75 165"/>
<path d="M523.55 154.2L527.95 149.8" stroke-width="1.1"/>
<path d="M525.75 149L525.75 165"/>
<path d="M534.05 154.2L538.45 149.8" stroke-width="1.1"/>
<path d="M536.25 149L536.25 165"/>
<text transform="translate(486 149.3) scale(0.9 1)" font-size="8.8" text-anchor="middle">500</text>
<text transform="translate(513.75 149.3) scale(0.9 1)" font-size="8.8" text-anchor="middle">400</text>
<text transform="translate(526.3 149.3) scale(0.9 1)" font-size="8.8">180.</text>
<circle cx="209.5" cy="152.5" r="10.6" stroke-width="0.9"/>
<text transform="translate(209.5 155.8) scale(0.8 1)" font-size="9.4" text-anchor="middle">01</text>
<path d="M209.5 163L209.5 179"/>
<circle cx="432" cy="152.5" r="10.6" stroke-width="0.9"/>
<text transform="translate(432 155.8) scale(0.8 1)" font-size="9.4" text-anchor="middle">04</text>
<path d="M432 163L432 179"/>
<circle cx="283.25" cy="104.5" r="10.6" stroke-width="0.9"/>
<text transform="translate(283.25 107.8) scale(0.8 1)" font-size="9.6" text-anchor="middle">Z03</text>
<path d="M294 104.5L312 104.5"/>
<path d="M313 104.5L306 103.2L306 105.8Z" stroke-width="0.5" fill="#000"/>
<path d="M82 91.6L105.3 91.6L105.3 167.5"/>
<path d="M82 94.5L102.2 94.5L102.2 167.5"/>
<path d="M313.3 167.5L313.3 91.6L504.6 91.6L504.6 167.5"/>
<path d="M316.4 167.5L316.4 94.5L501.7 94.5L501.7 167.5"/>
<text transform="translate(445 115.8) scale(0.86 1)" font-size="16.2" text-anchor="middle" class="th">32.06</text>
<path d="M562 167.5L562 889"/>
<path d="M576.9 167.5L576.9 889"/>
<path d="M596 93L596 889"/>
<path d="M559.8 169.7L564.2 165.3" stroke-width="1.1"/>
<path d="M549.5 167.5L565 167.5"/>
<path d="M559.8 180.95L564.2 176.55" stroke-width="1.1"/>
<path d="M549.5 178.75L565 178.75"/>
<path d="M559.8 200.2L564.2 195.8" stroke-width="1.1"/>
<path d="M549.5 198L565 198"/>
<path d="M559.8 751.2L564.2 746.8" stroke-width="1.1"/>
<path d="M549.5 749L565 749"/>
<path d="M559.8 769.95L564.2 765.55" stroke-width="1.1"/>
<path d="M549.5 767.75L565 767.75"/>
<path d="M559.8 861.7L564.2 857.3" stroke-width="1.1"/>
<path d="M549.5 859.5L565 859.5"/>
<path d="M559.8 881.2L564.2 876.8" stroke-width="1.1"/>
<path d="M549.5 879L565 879"/>
<path d="M549.5 167.5L580 167.5"/>
<path d="M574.7 169.7L579.1 165.3" stroke-width="1.1"/>
<path d="M574.7 429.7L579.1 425.3" stroke-width="1.1"/>
<path d="M574.7 718.45L579.1 714.05" stroke-width="1.1"/>
<path d="M583.75 93L598.75 93"/>
<path d="M583.75 167.5L598.75 167.5"/>
<path d="M593.8 95.2L598.2 90.8" stroke-width="1.1"/>
<path d="M593.8 169.7L598.2 165.3" stroke-width="1.1"/>
<text transform="translate(561 158.75) rotate(-90) scale(0.9 1)" font-size="8.8" text-anchor="middle">180</text>
<text transform="translate(561 187.5) rotate(-90) scale(0.9 1)" font-size="8.8" text-anchor="middle">300</text>
<text transform="translate(561 472.5) rotate(-90) scale(0.9 1)" font-size="8.8" text-anchor="middle">9000</text>
<text transform="translate(561 757.75) rotate(-90) scale(0.9 1)" font-size="8.8" text-anchor="middle">300</text>
<text transform="translate(561 814) rotate(-90) scale(0.9 1)" font-size="8.8" text-anchor="middle">1500</text>
<text transform="translate(561 869) rotate(-90) scale(0.9 1)" font-size="8.8" text-anchor="middle">300</text>
<text transform="translate(575 297) rotate(-90) scale(0.9 1)" font-size="8.8" text-anchor="middle">4230</text>
<text transform="translate(575 571) rotate(-90) scale(0.9 1)" font-size="8.8" text-anchor="middle">4700</text>
<text transform="translate(575 878) rotate(-90) scale(0.9 1)" font-size="8.8" text-anchor="middle">5300</text>
<text transform="translate(594.6 130) rotate(-90) scale(0.9 1)" font-size="8.8" text-anchor="middle">1200</text>
<text transform="translate(594.6 762.75) rotate(-90) scale(0.9 1)" font-size="8.8" text-anchor="middle">19390</text>
<path d="M83.75 220L507.5 220"/>
<path d="M84.8 222.2L89.2 217.8" stroke-width="1.1"/>
<path d="M99.8 222.2L104.2 217.8" stroke-width="1.1"/>
<path d="M117.8 222.2L122.2 217.8" stroke-width="1.1"/>
<path d="M145.8 222.2L150.2 217.8" stroke-width="1.1"/>
<path d="M268.55 222.2L272.95 217.8" stroke-width="1.1"/>
<path d="M289.8 222.2L294.2 217.8" stroke-width="1.1"/>
<path d="M299.05 222.2L303.45 217.8" stroke-width="1.1"/>
<path d="M329.8 222.2L334.2 217.8" stroke-width="1.1"/>
<path d="M468.3 222.2L472.7 217.8" stroke-width="1.1"/>
<path d="M505.3 222.2L509.7 217.8" stroke-width="1.1"/>
<path d="M148 208L148 222.5"/>
<path d="M270.75 208L270.75 222.5"/>
<path d="M332 208L332 222.5"/>
<path d="M470.5 208L470.5 222.5"/>
<path d="M87 209L87 222"/>
<text transform="translate(94.5 217.3) scale(0.9 1)" font-size="8.8" text-anchor="middle">250</text>
<rect x="104.4" y="210.7" width="13.2" height="7" stroke-width="0.1" stroke="#fff" fill="#fff"/>
<text transform="translate(111 217.3) scale(0.9 1)" font-size="8.8" text-anchor="middle">300</text>
<text transform="translate(134 217.3) scale(0.9 1)" font-size="8.8" text-anchor="middle">450</text>
<text transform="translate(209.5 217.3) scale(0.9 1)" font-size="8.8" text-anchor="middle">2000</text>
<text transform="translate(281.3 217.3) scale(0.9 1)" font-size="8.8" text-anchor="middle">350</text>
<text transform="translate(316.3 217.3) scale(0.9 1)" font-size="8.8" text-anchor="middle">500</text>
<text transform="translate(401 217.3) scale(0.9 1)" font-size="8.8" text-anchor="middle">2250</text>
<text transform="translate(489 217.3) scale(0.9 1)" font-size="8.8" text-anchor="middle">600</text>
<path d="M140.75 165L140.75 475.5"/>
<path d="M138.55 181.4L142.95 177" stroke-width="1.1"/>
<path d="M138.55 199.7L142.95 195.3" stroke-width="1.1"/>
<path d="M138.55 477.7L142.95 473.3" stroke-width="1.1"/>
<text transform="translate(138.6 158.75) rotate(-90) scale(0.9 1)" font-size="8.8" text-anchor="middle">180</text>
<rect x="132" y="180.9" width="7" height="13.2" stroke-width="0.1" stroke="#fff" fill="#fff"/>
<text transform="translate(138.6 187.5) rotate(-90) scale(0.9 1)" font-size="8.8" text-anchor="middle">300</text>
<text transform="translate(138.6 322.5) rotate(-90) scale(0.9 1)" font-size="8.8" text-anchor="middle">4525</text>
<path d="M97 339.6L537.5 339.6"/>
<path d="M99.8 341.8L104.2 337.4" stroke-width="1.1"/>
<path d="M117.8 341.8L122.2 337.4" stroke-width="1.1"/>
<path d="M289.8 341.8L294.2 337.4" stroke-width="1.1"/>
<path d="M299.05 341.8L303.45 337.4" stroke-width="1.1"/>
<path d="M505.3 341.8L509.7 337.4" stroke-width="1.1"/>
<path d="M523.55 341.8L527.95 337.4" stroke-width="1.1"/>
<path d="M534.3 341.8L538.7 337.4" stroke-width="1.1"/>
<rect x="104.4" y="329.9" width="13.2" height="7" stroke-width="0.1" stroke="#fff" fill="#fff"/>
<text transform="translate(111 336.5) scale(0.9 1)" font-size="8.8" text-anchor="middle">300</text>
<text transform="translate(206 336.5) scale(0.9 1)" font-size="8.8" text-anchor="middle">2800</text>
<text transform="translate(310 336.5) scale(0.9 1)" font-size="8.8" text-anchor="middle">150</text>
<text transform="translate(405 336.5) scale(0.9 1)" font-size="8.8" text-anchor="middle">3350</text>
<rect x="509.4" y="329.9" width="13.2" height="7" stroke-width="0.1" stroke="#fff" fill="#fff"/>
<text transform="translate(516 336.5) scale(0.9 1)" font-size="8.8" text-anchor="middle">300</text>
<text transform="translate(545 336.5) scale(0.9 1)" font-size="8.8" text-anchor="middle">180</text>
<path d="M97 361L507.5 361"/>
<path d="M99.8 363.2L104.2 358.8" stroke-width="1.1"/>
<path d="M117.8 363.2L122.2 358.8" stroke-width="1.1"/>
<path d="M505.3 363.2L509.7 358.8" stroke-width="1.1"/>
<text transform="translate(314 358.6) scale(0.9 1)" font-size="8.8" text-anchor="middle">6300</text>
<path d="M383 94.5L383 801"/>
<path d="M380.8 96.7L385.2 92.3" stroke-width="1.1"/>
<path d="M380.8 169.7L385.2 165.3" stroke-width="1.1"/>
<path d="M380.8 199.2L385.2 194.8" stroke-width="1.1"/>
<path d="M380.8 474.7L385.2 470.3" stroke-width="1.1"/>
<path d="M380.8 528.45L385.2 524.05" stroke-width="1.1"/>
<path d="M380.8 535.2L385.2 530.8" stroke-width="1.1"/>
<path d="M380.8 656.7L385.2 652.3" stroke-width="1.1"/>
<path d="M380.8 751.2L385.2 746.8" stroke-width="1.1"/>
<path d="M380.8 769.5L385.2 765.1" stroke-width="1.1"/>
<path d="M380.8 799.95L385.2 795.55" stroke-width="1.1"/>
<text transform="translate(381 139) rotate(-90) scale(0.9 1)" font-size="8.8" text-anchor="middle">1200</text>
<text transform="translate(381 182.5) rotate(-90) scale(0.9 1)" font-size="8.8" text-anchor="middle">480</text>
<text transform="translate(381 326) rotate(-90) scale(0.9 1)" font-size="8.8" text-anchor="middle">4500</text>
<text transform="translate(381 498.75) rotate(-90) scale(0.9 1)" font-size="8.8" text-anchor="middle">850</text>
<text transform="translate(381 541) rotate(-90) scale(0.9 1)" font-size="8.8" text-anchor="middle">130</text>
<text transform="translate(381 596) rotate(-90) scale(0.9 1)" font-size="8.8" text-anchor="middle">1985</text>
<text transform="translate(381 690) rotate(-90) scale(0.9 1)" font-size="8.8" text-anchor="middle">1535</text>
<rect x="374.4" y="751.15" width="7" height="13.2" stroke-width="0.1" stroke="#fff" fill="#fff"/>
<text transform="translate(381 757.75) rotate(-90) scale(0.9 1)" font-size="8.8" text-anchor="middle">300</text>
<text transform="translate(381 782.75) rotate(-90) scale(0.9 1)" font-size="8.8" text-anchor="middle">500</text>
<text transform="translate(390.6 596) rotate(-90) scale(0.9 1)" font-size="8.8" text-anchor="middle">2210</text>
<path d="M370 472.5L390 472.5"/>
<path d="M370 526.25L390 526.25"/>
<path d="M370 533L390 533"/>
<path d="M370 654.5L386 654.5"/>
<path d="M147.5 179.2L270.75 179.2"/>
<path d="M152 183.2L267 183.2"/>
<path d="M147.5 197.5L270.75 197.5"/>
<path d="M153.4 179.2L153.4 183.2"/>
<path d="M266 179.2L266 183.2"/>
<path d="M152 179.2L152 183.2" stroke-width="0.8"/>
<path d="M267.5 179.2L267.5 183.2" stroke-width="0.8"/>
<path d="M332 179.4L470.5 179.4"/>
<path d="M388.75 183.6L466 183.6"/>
<path d="M338 183.6L388.75 183.6" stroke-dasharray="7 1.8 1.2 1.8 1.2 1.8"/>
<path d="M332 197.2L470.5 197.2" stroke-dasharray="14 2 1.5 2 1.5 2"/>
<path d="M338 179.4L338 183.6"/>
<path d="M388.75 179.4L388.75 183.6"/>
<path d="M393.75 179.4L393.75 183.6"/>
<path d="M399.5 179.4L399.5 183.6"/>
<path d="M465.75 179.4L465.75 183.6"/>
<path d="M335 179.4L335 183.6" stroke-width="0.8"/>
<path d="M467 179.4L467 183.6" stroke-width="0.8"/>
<path d="M338 183.6L372.5 220" stroke-width="0.9"/>
<path d="M372.5 220A50 50 0 0 0 388.3 183.6" stroke-width="0.9"/>
<path d="M362.5 173.5L362.5 221"/>
<path clip-path="url(#c16)" d="M131.05 371L304.75 197.3M144.05 371L317.75 197.3M157.05 371L330.75 197.3M170.05 371L343.75 197.3M183.05 371L356.75 197.3M196.05 371L369.75 197.3M209.05 371L382.75 197.3M222.05 371L395.75 197.3M235.05 371L408.75 197.3M248.05 371L421.75 197.3M261.05 371L434.75 197.3M274.05 371L447.75 197.3M287.05 371L460.75 197.3M300.05 371L473.75 197.3" stroke-width="1" stroke="#222"/>
<path clip-path="url(#c17)" d="M119.95 371L293.65 197.3M132.95 371L306.65 197.3M145.95 371L319.65 197.3M158.95 371L332.65 197.3M171.95 371L345.65 197.3M184.95 371L358.65 197.3M197.95 371L371.65 197.3M210.95 371L384.65 197.3M223.95 371L397.65 197.3M236.95 371L410.65 197.3M249.95 371L423.65 197.3M262.95 371L436.65 197.3M275.95 371L449.65 197.3M288.95 371L462.65 197.3" stroke-width="1" stroke="#222"/>
<path d="M292 197.3L292 371"/>
<path d="M301.25 197.3L301.25 371"/>
<circle cx="295.5" cy="201" r="1" stroke-width="0.5" fill="#000"/>
<circle cx="295.5" cy="214" r="1" stroke-width="0.5" fill="#000"/>
<circle cx="295.5" cy="227" r="1" stroke-width="0.5" fill="#000"/>
<circle cx="295.5" cy="240" r="1" stroke-width="0.5" fill="#000"/>
<circle cx="295.5" cy="253" r="1" stroke-width="0.5" fill="#000"/>
<circle cx="295.5" cy="266" r="1" stroke-width="0.5" fill="#000"/>
<circle cx="295.5" cy="279" r="1" stroke-width="0.5" fill="#000"/>
<circle cx="295.5" cy="292" r="1" stroke-width="0.5" fill="#000"/>
<circle cx="295.5" cy="305" r="1" stroke-width="0.5" fill="#000"/>
<circle cx="295.5" cy="318" r="1" stroke-width="0.5" fill="#000"/>
<circle cx="295.5" cy="331" r="1" stroke-width="0.5" fill="#000"/>
<circle cx="295.5" cy="344" r="1" stroke-width="0.5" fill="#000"/>
<circle cx="295.5" cy="357" r="1" stroke-width="0.5" fill="#000"/>
<rect x="291.2" y="368.8" width="12.6" height="4.8" fill="#fff"/>
<rect x="291.2" y="422.4" width="12.6" height="5" fill="#fff"/>
<path d="M292 373.6L292 422.4" stroke-width="0.9" stroke-dasharray="5 1.6 1 1.6 1 1.6"/>
<path d="M301.25 373.6L301.25 422.4" stroke-width="0.9" stroke-dasharray="5 1.6 1 1.6 1 1.6"/>
<path d="M242.5 422.5L291.2 422.5" stroke-width="0.9"/>
<path d="M242.5 422.5A49.7 49.7 0 0 1 292 372.8" stroke-width="0.8"/>
<path clip-path="url(#c18)" d="M247.55 475.5L295.65 427.4M260.55 475.5L308.65 427.4M273.55 475.5L321.65 427.4M286.55 475.5L334.65 427.4M299.55 475.5L347.65 427.4" stroke-width="1" stroke="#222"/>
<path clip-path="url(#c19)" d="M249.45 475.5L297.55 427.4M262.45 475.5L310.55 427.4M275.45 475.5L323.55 427.4M288.45 475.5L336.55 427.4" stroke-width="1" stroke="#222"/>
<path clip-path="url(#c20)" d="M242.05 533L303.8 471.25M255.05 533L316.8 471.25M268.05 533L329.8 471.25M281.05 533L342.8 471.25M294.05 533L355.8 471.25M307.05 533L368.8 471.25M320.05 533L381.8 471.25M333.05 533L394.8 471.25M346.05 533L407.8 471.25" stroke-width="1" stroke="#222"/>
<path clip-path="url(#c21)" d="M230.95 533L292.7 471.25M243.95 533L305.7 471.25M256.95 533L318.7 471.25M269.95 533L331.7 471.25M282.95 533L344.7 471.25M295.95 533L357.7 471.25M308.95 533L370.7 471.25M321.95 533L383.7 471.25M334.95 533L396.7 471.25M347.95 533L409.7 471.25" stroke-width="1" stroke="#222"/>
<path clip-path="url(#c22)" d="M117.25 483L124.75 475.5M123.5 483L131 475.5M129.75 483L137.25 475.5M136 483L143.5 475.5M142.25 483L149.75 475.5M148.5 483L156 475.5M154.75 483L162.25 475.5M161 483L168.5 475.5M167.25 483L174.75 475.5M173.5 483L181 475.5M179.75 483L187.25 475.5M186 483L193.5 475.5M192.25 483L199.75 475.5M198.5 483L206 475.5M204.75 483L212.25 475.5M211 483L218.5 475.5M217.25 483L224.75 475.5M223.5 483L231 475.5M229.75 483L237.25 475.5M236 483L243.5 475.5M242.25 483L249.75 475.5M248.5 483L256 475.5M254.75 483L262.25 475.5M261 483L268.5 475.5M267.25 483L274.75 475.5M273.5 483L281 475.5M279.75 483L287.25 475.5M286 483L293.5 475.5" stroke-width="1.7" stroke="#3a3a3a"/>
<path clip-path="url(#c23)" d="M180.75 542.3L240.05 483M193.75 542.3L253.05 483M206.75 542.3L266.05 483M219.75 542.3L279.05 483M232.75 542.3L292.05 483" stroke-width="1" stroke="#222"/>
<path clip-path="url(#c24)" d="M182.65 542.3L241.95 483M195.65 542.3L254.95 483M208.65 542.3L267.95 483M221.65 542.3L280.95 483M234.65 542.3L293.95 483" stroke-width="1" stroke="#222"/>
<path d="M292 427.4L292 475.5L120 475.5"/>
<path d="M301.25 427.4L301.25 471.25L353.75 523.75L353.75 533"/>
<path d="M120 483L237.5 483L237.5 542.3"/>
<path d="M243 542.3L243 483L299.5 483L345 528.5L345 533"/>
<circle cx="295.5" cy="435" r="1" stroke-width="0.5" fill="#000"/>
<circle cx="295.5" cy="448" r="1" stroke-width="0.5" fill="#000"/>
<circle cx="295.5" cy="461" r="1" stroke-width="0.5" fill="#000"/>
<circle cx="128.43" cy="481.2" r="0.9" stroke-width="0.4" fill="#000"/>
<circle cx="134.68" cy="481.2" r="0.9" stroke-width="0.4" fill="#000"/>
<circle cx="140.93" cy="481.2" r="0.9" stroke-width="0.4" fill="#000"/>
<circle cx="147.18" cy="481.2" r="0.9" stroke-width="0.4" fill="#000"/>
<circle cx="153.43" cy="481.2" r="0.9" stroke-width="0.4" fill="#000"/>
<circle cx="159.68" cy="481.2" r="0.9" stroke-width="0.4" fill="#000"/>
<circle cx="165.93" cy="481.2" r="0.9" stroke-width="0.4" fill="#000"/>
<circle cx="172.18" cy="481.2" r="0.9" stroke-width="0.4" fill="#000"/>
<circle cx="178.43" cy="481.2" r="0.9" stroke-width="0.4" fill="#000"/>
<circle cx="184.68" cy="481.2" r="0.9" stroke-width="0.4" fill="#000"/>
<circle cx="190.93" cy="481.2" r="0.9" stroke-width="0.4" fill="#000"/>
<circle cx="197.18" cy="481.2" r="0.9" stroke-width="0.4" fill="#000"/>
<circle cx="203.43" cy="481.2" r="0.9" stroke-width="0.4" fill="#000"/>
<circle cx="209.68" cy="481.2" r="0.9" stroke-width="0.4" fill="#000"/>
<circle cx="215.93" cy="481.2" r="0.9" stroke-width="0.4" fill="#000"/>
<circle cx="222.18" cy="481.2" r="0.9" stroke-width="0.4" fill="#000"/>
<circle cx="228.43" cy="481.2" r="0.9" stroke-width="0.4" fill="#000"/>
<circle cx="234.68" cy="481.2" r="0.9" stroke-width="0.4" fill="#000"/>
<circle cx="240.93" cy="481.2" r="0.9" stroke-width="0.4" fill="#000"/>
<circle cx="247.18" cy="481.2" r="0.9" stroke-width="0.4" fill="#000"/>
<circle cx="253.43" cy="481.2" r="0.9" stroke-width="0.4" fill="#000"/>
<circle cx="259.68" cy="481.2" r="0.9" stroke-width="0.4" fill="#000"/>
<circle cx="265.93" cy="481.2" r="0.9" stroke-width="0.4" fill="#000"/>
<circle cx="272.18" cy="481.2" r="0.9" stroke-width="0.4" fill="#000"/>
<circle cx="278.43" cy="481.2" r="0.9" stroke-width="0.4" fill="#000"/>
<circle cx="284.68" cy="481.2" r="0.9" stroke-width="0.4" fill="#000"/>
<circle cx="239.6" cy="490.9" r="1" stroke-width="0.5" fill="#000"/>
<circle cx="239.6" cy="503.9" r="1" stroke-width="0.5" fill="#000"/>
<circle cx="239.6" cy="516.9" r="1" stroke-width="0.5" fill="#000"/>
<circle cx="239.6" cy="529.9" r="1" stroke-width="0.5" fill="#000"/>
<circle cx="304.2" cy="481.5" r="1" stroke-width="0.4" fill="#000"/>
<circle cx="313.4" cy="490.7" r="1" stroke-width="0.4" fill="#000"/>
<circle cx="322.6" cy="499.9" r="1" stroke-width="0.4" fill="#000"/>
<circle cx="331.8" cy="509.1" r="1" stroke-width="0.4" fill="#000"/>
<circle cx="341" cy="518.3" r="1" stroke-width="0.4" fill="#000"/>
<circle cx="350.2" cy="527.5" r="1" stroke-width="0.4" fill="#000"/>
<rect x="290.9" y="223.1" width="13.2" height="7" stroke-width="0.1" stroke="#fff" fill="#fff"/>
<text transform="translate(297.5 229.7) scale(0.9 1)" font-size="8.8" text-anchor="middle">150</text>
<path d="M242.5 397.5L332.5 397.5"/>
<path d="M240.3 399.7L244.7 395.3" stroke-width="1.1"/>
<path d="M289.8 399.7L294.2 395.3" stroke-width="1.1"/>
<text transform="translate(276 396) scale(0.9 1)" font-size="8.8" text-anchor="middle">800</text>
<text transform="translate(276 405.7) scale(0.9 1)" font-size="8.8" text-anchor="middle">2100</text>
<circle cx="321.25" cy="398.75" r="10.6" stroke-width="0.9"/>
<path d="M310.65 398.75L331.85 398.75" stroke-width="0.9"/>
<text transform="translate(321.25 396.95) scale(0.8 1)" font-size="8.8" text-anchor="middle">04</text>
<text transform="translate(321.25 407.35) scale(0.8 1)" font-size="8.8" text-anchor="middle">P</text>
<path d="M260 397.5L260 483.5"/>
<path d="M257.8 477.7L262.2 473.3" stroke-width="1.1"/>
<text transform="translate(258 436) rotate(-90) scale(0.9 1)" font-size="8.8" text-anchor="middle">1250</text>
<path d="M301.25 457.3L353.75 457.3"/>
<path d="M299.05 459.5L303.45 455.1" stroke-width="1.1"/>
<path d="M351.55 459.5L355.95 455.1" stroke-width="1.1"/>
<path d="M353.75 454.5L353.75 470"/>
<text transform="translate(327.5 454.8) scale(0.9 1)" font-size="8.8" text-anchor="middle">850</text>
<text transform="translate(258 490) rotate(-90) scale(0.9 1)" font-size="8.8" text-anchor="middle">125</text>
<path d="M257.8 485.2L262.2 480.8" stroke-width="1.1"/>
<text transform="translate(331 489.5) rotate(-45) scale(0.9 1)" font-size="8.8" text-anchor="middle">125</text>
<path d="M324 489.5L319 494.5" stroke-width="0.8"/>
<path d="M320.2 493.8L323.8 490.2" stroke-width="1.1"/>
<path d="M243 508L301.25 508"/>
<path d="M240.8 510.2L245.2 505.8" stroke-width="1.1"/>
<path d="M299.05 510.2L303.45 505.8" stroke-width="1.1"/>
<path d="M301.25 498L301.25 510.5"/>
<text transform="translate(271 505.2) scale(0.9 1)" font-size="8.8" text-anchor="middle">925</text>
<text transform="translate(228 384) scale(0.86 1)" font-size="16.2" text-anchor="middle" class="th">32.03</text>
<text transform="translate(409.5 445.3) scale(0.86 1)" font-size="16.2" text-anchor="middle" class="th">32.02</text>
<text x="156" y="405.3" font-size="8.1" textLength="77.5" lengthAdjust="spacingAndGlyphs">PŘIZDÍVKA V. 1,0 m</text>
<text x="156" y="417" font-size="8.1" textLength="73" lengthAdjust="spacingAndGlyphs">ODDILATOVANÁ OD</text>
<rect x="154.5" y="421.6" width="80.5" height="8.6" stroke-width="0.1" stroke="#fff" fill="#fff"/>
<text x="156" y="428.5" font-size="8.1" textLength="77.5" lengthAdjust="spacingAndGlyphs">NOSNÉ KONSTRUKCE</text>
<path d="M152.5 412.5L139.5 472" stroke-width="0.8"/>
<circle cx="139.5" cy="472.5" r="1.3" stroke-width="0.5" fill="#000"/>
<rect x="123.3" y="251.9" width="129.2" height="98.7"/>
<rect x="126.1" y="254.4" width="33.8" height="43.7"/>
<rect x="126.1" y="304.75" width="33.8" height="42.15"/>
<path d="M123.3 299.6L252.5 299.6" stroke-width="0.9"/>
<path d="M123.3 303.2L252.5 303.2" stroke-width="0.9"/>
<path d="M176.75 254.4L250 254.4L250 298.1L163 298.1L163 295"/>
<path d="M163 309L163 304.75L250 304.75L250 346.9L176.75 346.9"/>
<path d="M176.75 254.4L190.5 261.25L163 295.5Z"/>
<path d="M163 308.5L190.5 341.25L176.75 347.3Z"/>
<rect x="123.75" y="436" width="165" height="34"/>
<rect x="126" y="438.6" width="160.2" height="28.8"/>
<rect x="305" y="242.5" width="25" height="110.75"/>
<circle cx="394" cy="297.5" r="24.8" stroke-width="0.8"/>
<rect x="448.8" y="230.8" width="55.7" height="134.9" rx="3" stroke="#2a2a2a"/>
<path d="M451 232L502.5 232" stroke-width="2.2" stroke="#a8a8a8"/>
<path d="M497.4 239.6L492.2 244.9H455.3Q452.3 244.9 452.3 241.9V236.5Q452.3 233.4 455.3 233.4" stroke="#2a2a2a"/>
<path d="M448.8 240L452.3 240" stroke="#2a2a2a"/>
<path d="M497.4 357.3L492.2 351.4H455.3Q452.3 351.4 452.3 354.4V360.7Q452.3 363.7 455.3 363.7H501.5" stroke="#2a2a2a"/>
<path d="M448.8 357.5L452.3 357.5" stroke="#2a2a2a"/>
<path d="M492.2 244.9L492.2 351.4"/>
<path d="M448.8 249.4L492.2 249.4"/>
<path d="M448.8 261L492.2 261"/>
<path d="M448.8 273.5L492.2 273.5"/>
<path d="M448.8 286L492.2 286"/>
<path d="M448.8 298.5L492.2 298.5"/>
<path d="M448.8 311L492.2 311"/>
<path d="M448.8 322.5L492.2 322.5"/>
<path d="M448.8 334.5L492.2 334.5"/>
<path d="M448.8 347L492.2 347"/>
<rect x="362.3" y="362.3" width="62.8" height="56.6" rx="3.2" stroke="#2a2a2a"/>
<path d="M371.4 410.7L377.9 405.4V368.3Q377.9 365.3 374.9 365.3H368.5Q365.5 365.3 365.5 368.3V412" stroke="#2a2a2a"/>
<path d="M415.4 410.7L409.5 405.4V368.3Q409.5 365.3 412.5 365.3H418.8Q421.8 365.3 421.8 368.3V412" stroke="#2a2a2a"/>
<path d="M375.5 362.3L375.5 365.3" stroke="#2a2a2a"/>
<path d="M412 362.3L412 365.3" stroke="#2a2a2a"/>
<path d="M380.2 362.3L380.2 406.3"/>
<path d="M393.5 362.3L393.5 406.3"/>
<path d="M405.6 362.3L405.6 406.3"/>
<path d="M377.9 406L409.5 406" stroke-width="1.2" stroke="#777"/>
<rect x="130.5" y="486.3" width="46.3" height="40.5" stroke-width="6.2"/>
<path d="M156.3 489L156.3 524"/>
<path d="M133 509.6L174 509.6"/>
<text transform="translate(155.3 500) rotate(-90) scale(0.9 1)" font-size="8.8" text-anchor="middle">700</text>
<text transform="translate(178.5 508) scale(0.9 1)" font-size="8.8" text-anchor="middle">1000</text>
<text transform="translate(187.5 493.6) scale(0.9 1)" font-size="7.6" text-anchor="middle">(2000)</text>
<circle cx="125.5" cy="500" r="1.5" stroke-width="0.5" fill="#000"/>
<circle cx="142" cy="507" r="0.9" stroke-width="0.6"/>
<rect x="121.3" y="525.3" width="5.7" height="5.7"/>
<circle cx="124" cy="528" r="1" stroke-width="0.6"/>
<ellipse cx="151" cy="526.5" rx="2.4" ry="3.4" stroke-width="0.5" fill="#000"/>
<path d="M121.4 483L121.4 620"/>
<path d="M125.2 531L125.2 620"/>
<path d="M180 486.2L228 486.2"/>
<path d="M228 486.2Q231.6 486.2 231.6 490V524Q231.6 527.6 228 527.6H180"/>
<path d="M180 509.5L243 509.5"/>
<path d="M180 531.2L232 531.2"/>
<path d="M202.6 483L202.6 603.75"/>
<path d="M217.2 483L217.2 568.6"/>
<path d="M235.2 483L235.2 542"/>
<text transform="translate(228 508) scale(0.9 1)" font-size="8.8" text-anchor="middle">100</text>
<text transform="translate(214.5 525) rotate(-90) scale(0.9 1)" font-size="8.8" text-anchor="middle">1400</text>
<path d="M200.4 511.7L204.8 507.3" stroke-width="1.1"/>
<path d="M215 511.7L219.4 507.3" stroke-width="1.1"/>
<path d="M233.6 511.1L236.8 507.9" stroke-width="1.1"/>
<text transform="translate(173.3 550.3) scale(0.86 1)" font-size="16.2" text-anchor="middle" class="th">32.04</text>
<path d="M243 522.5L350 522.5"/>
<path d="M243 525.75L347 525.75" stroke-width="0.8"/>
<path d="M243 528.75L345 528.75"/>
<text transform="translate(200.4 466) rotate(-90) scale(0.9 1)" font-size="8.8" text-anchor="middle">125</text>
<rect x="127.3" y="537.5" width="23" height="37.5"/>
<ellipse cx="138.5" cy="556.2" rx="9.5" ry="14.8" stroke-width="0.9"/>
<circle cx="138.5" cy="556.2" r="1.4" stroke-width="0.7"/>
<text transform="translate(134.5 570) scale(0.9 1)" font-size="8.8" text-anchor="middle">100</text>
<path d="M121.4 570.5L127.3 570.5"/>
<path d="M123.7 572L126.7 569" stroke-width="1.1"/>
<rect x="129" y="580.6" width="37.8" height="36"/>
<circle cx="147.8" cy="599.2" r="12.3" stroke-width="0.8"/>
<path d="M120 603.2L237.5 603.2"/>
<path d="M117.8 605.4L122.2 601" stroke-width="1.1"/>
<path d="M152.6 605.4L157 601" stroke-width="1.1"/>
<path d="M154.8 600L154.8 615"/>
<path d="M200.4 605.4L204.8 601" stroke-width="1.1"/>
<text transform="translate(137.6 601.2) scale(0.9 1)" font-size="8.8" text-anchor="middle">550</text>
<text transform="translate(189.3 601.2) scale(0.9 1)" font-size="8.8" text-anchor="middle">1350</text>
<text transform="translate(200.3 579.7) rotate(-90) scale(0.9 1)" font-size="8.8" text-anchor="middle">3050</text>
<path d="M194.4 546.7L236.5 546.7" stroke-width="0.9"/>
<path d="M194.4 546.7A43 43 0 0 0 237 589.8" stroke-width="0.8"/>
<path d="M190 568.5L270.5 568.5"/>
<path d="M215 570.7L219.4 566.3" stroke-width="1.1"/>
<text transform="translate(227.6 566.6) scale(0.9 1)" font-size="8.8" text-anchor="middle">700</text>
<text transform="translate(227.6 576.4) scale(0.9 1)" font-size="8.8" text-anchor="middle">2100</text>
<circle cx="259.7" cy="568.3" r="10.6" stroke-width="0.9"/>
<path d="M249.1 568.3L270.3 568.3" stroke-width="0.9"/>
<text transform="translate(259.7 566.5) scale(0.8 1)" font-size="8.8" text-anchor="middle">01</text>
<text transform="translate(259.7 576.9) scale(0.8 1)" font-size="8.8" text-anchor="middle">L</text>
<rect x="235.8" y="542" width="8.5" height="4.8" fill="#fff"/>
<rect x="235.8" y="589.8" width="8.5" height="5" fill="#fff"/>
<rect x="240" y="590.5" width="4" height="4" stroke-width="0.5" fill="#000"/>
<path d="M237.6 546.8L237.6 589.8" stroke-width="0.9" stroke-dasharray="1.5 2.2"/>
<path d="M243.4 546.8L243.4 589.8" stroke-width="0.9" stroke-dasharray="1.5 2.2"/>
<path clip-path="url(#c25)" d="M151.25 688.8L245.25 594.8M164.25 688.8L258.25 594.8M177.25 688.8L271.25 594.8M190.25 688.8L284.25 594.8M203.25 688.8L297.25 594.8M216.25 688.8L310.25 594.8M229.25 688.8L323.25 594.8M242.25 688.8L336.25 594.8" stroke-width="1" stroke="#222"/>
<path clip-path="url(#c26)" d="M153.15 688.8L247.15 594.8M166.15 688.8L260.15 594.8M179.15 688.8L273.15 594.8M192.15 688.8L286.15 594.8M205.15 688.8L299.15 594.8M218.15 688.8L312.15 594.8M231.15 688.8L325.15 594.8" stroke-width="1" stroke="#222"/>
<circle cx="239.6" cy="607.9" r="1" stroke-width="0.5" fill="#000"/>
<circle cx="239.6" cy="620.9" r="1" stroke-width="0.5" fill="#000"/>
<circle cx="239.6" cy="633.9" r="1" stroke-width="0.5" fill="#000"/>
<circle cx="239.6" cy="646.9" r="1" stroke-width="0.5" fill="#000"/>
<circle cx="239.6" cy="659.9" r="1" stroke-width="0.5" fill="#000"/>
<circle cx="239.6" cy="672.9" r="1" stroke-width="0.5" fill="#000"/>
<circle cx="239.6" cy="685.9" r="1" stroke-width="0.5" fill="#000"/>
<path d="M237.5 594.8L237.5 688.8"/>
<path d="M243.2 594.8L243.2 688.8"/>
<path d="M235.3 596L235.3 670" stroke-width="0.7"/>
<rect x="232.3" y="627.5" width="3.2" height="30" fill="#fff"/>
<path d="M232.3 627.5L232.3 657.5" stroke-width="1.6"/>
<text x="188.6" y="615.9" font-size="7.8" textLength="38.6" lengthAdjust="spacingAndGlyphs">PŘIZDÍVKA</text>
<text x="189" y="627" font-size="7.8" textLength="32" lengthAdjust="spacing">V. 1,1 m</text>
<path d="M186 617.5L164 628.5" stroke-width="0.8"/>
<circle cx="161.3" cy="630" r="1.4" stroke-width="0.5" fill="#000"/>
<path d="M163 623.5L166.5 629" stroke-width="0.8"/>
<path clip-path="url(#c27)" d="M99.05 676L153.85 621.2M112.05 676L166.85 621.2M125.05 676L179.85 621.2M138.05 676L192.85 621.2M151.05 676L205.85 621.2" stroke-width="1" stroke="#222"/>
<path clip-path="url(#c28)" d="M100.95 676L155.75 621.2M113.95 676L168.75 621.2M126.95 676L181.75 621.2M139.95 676L194.75 621.2M152.95 676L207.75 621.2" stroke-width="1" stroke="#222"/>
<path clip-path="url(#c29)" d="M117.7 626.3L122.8 621.2M123.95 626.3L129.05 621.2M130.2 626.3L135.3 621.2M136.45 626.3L141.55 621.2M142.7 626.3L147.8 621.2" stroke-width="1.7" stroke="#3a3a3a"/>
<path clip-path="url(#c30)" d="M149.25 676L155.45 669.8M155.5 676L161.7 669.8M161.75 676L167.95 669.8M168 676L174.2 669.8M174.25 676L180.45 669.8M180.5 676L186.7 669.8M186.75 676L192.95 669.8M193 676L199.2 669.8M199.25 676L205.45 669.8M205.5 676L211.7 669.8M211.75 676L217.95 669.8M218 676L224.2 669.8M224.25 676L230.45 669.8M230.5 676L236.7 669.8M236.75 676L242.95 669.8" stroke-width="1.7" stroke="#3a3a3a"/>
<path d="M121.25 626.3L121.25 621.2L155 621.2L155 669.8L237.5 669.8"/>
<path d="M121.25 626.3L148.5 626.3L148.5 676L237.5 676"/>
<circle cx="150.6" cy="631.9" r="1" stroke-width="0.5" fill="#000"/>
<circle cx="150.6" cy="644.9" r="1" stroke-width="0.5" fill="#000"/>
<circle cx="150.6" cy="657.9" r="1" stroke-width="0.5" fill="#000"/>
<circle cx="160.02" cy="674.6" r="0.9" stroke-width="0.4" fill="#000"/>
<circle cx="166.27" cy="674.6" r="0.9" stroke-width="0.4" fill="#000"/>
<circle cx="172.52" cy="674.6" r="0.9" stroke-width="0.4" fill="#000"/>
<circle cx="178.77" cy="674.6" r="0.9" stroke-width="0.4" fill="#000"/>
<circle cx="185.02" cy="674.6" r="0.9" stroke-width="0.4" fill="#000"/>
<circle cx="191.27" cy="674.6" r="0.9" stroke-width="0.4" fill="#000"/>
<circle cx="197.52" cy="674.6" r="0.9" stroke-width="0.4" fill="#000"/>
<circle cx="203.77" cy="674.6" r="0.9" stroke-width="0.4" fill="#000"/>
<circle cx="210.02" cy="674.6" r="0.9" stroke-width="0.4" fill="#000"/>
<circle cx="216.27" cy="674.6" r="0.9" stroke-width="0.4" fill="#000"/>
<circle cx="222.52" cy="674.6" r="0.9" stroke-width="0.4" fill="#000"/>
<circle cx="228.77" cy="674.6" r="0.9" stroke-width="0.4" fill="#000"/>
<circle cx="235.02" cy="674.6" r="0.9" stroke-width="0.4" fill="#000"/>
<circle cx="128.38" cy="625" r="0.9" stroke-width="0.4" fill="#000"/>
<circle cx="134.62" cy="625" r="0.9" stroke-width="0.4" fill="#000"/>
<circle cx="140.88" cy="625" r="0.9" stroke-width="0.4" fill="#000"/>
<rect x="121.8" y="626.3" width="25.7" height="43.1"/>
<path d="M124.2 668L124.2 629L145.3 628L145.3 668"/>
<path d="M124.5 629L145 628.2" stroke-width="1.8"/>
<path d="M121.8 673L147.5 673"/>
<path d="M121.25 676L148.5 676"/>
<path d="M121.25 626L121.25 676"/>
<rect x="157.5" y="621.2" width="16" height="48.4"/>
<path d="M161.6 621.2L161.6 669.6"/>
<text transform="translate(172 644.5) rotate(-90) scale(0.9 1)" font-size="8.8" text-anchor="middle">800</text>
<path d="M173.5 634.5Q180 633 187 633.6Q199 634.5 199 646Q199 657.5 187 658.4Q180 659 173.5 657.5" stroke-width="0.9"/>
<ellipse cx="187" cy="646" rx="9" ry="8.2" stroke-width="0.9"/>
<path d="M201.8 634L201.8 669.8"/>
<text transform="translate(200.3 659.5) rotate(-90) scale(0.9 1)" font-size="8.8" text-anchor="middle">100</text>
<path d="M116 690L166 690"/>
<path d="M119.05 692.2L123.45 687.8" stroke-width="1.1"/>
<path d="M142.8 692.2L147.2 687.8" stroke-width="1.1"/>
<path d="M150.3 692.2L154.7 687.8" stroke-width="1.1"/>
<path d="M121.25 677L121.25 692"/>
<path d="M145 677L145 692"/>
<path d="M152.5 677L152.5 692"/>
<rect x="110.6" y="681.4" width="8.8" height="7" stroke-width="0.1" stroke="#fff" fill="#fff"/>
<text transform="translate(115 688) scale(0.9 1)" font-size="8.8" text-anchor="middle">50</text>
<text transform="translate(133.8 688) scale(0.9 1)" font-size="8.8" text-anchor="middle">400</text>
<text transform="translate(161.8 688) scale(0.9 1)" font-size="8.8" text-anchor="middle">100</text>
<path d="M144.5 690L144.5 706.4"/>
<path d="M76 703.75L525.75 703.75"/>
<path d="M99.8 705.95L104.2 701.55" stroke-width="1.1"/>
<path d="M117.8 705.95L122.2 701.55" stroke-width="1.1"/>
<path d="M185.6 705.95L190 701.55" stroke-width="1.1"/>
<path d="M200.1 705.95L204.5 701.55" stroke-width="1.1"/>
<path d="M241 705.95L245.4 701.55" stroke-width="1.1"/>
<path d="M343.3 705.95L347.7 701.55" stroke-width="1.1"/>
<path d="M351.3 705.95L355.7 701.55" stroke-width="1.1"/>
<path d="M505.3 705.95L509.7 701.55" stroke-width="1.1"/>
<rect x="103.4" y="694.8" width="13.2" height="7" stroke-width="0.1" stroke="#fff" fill="#fff"/>
<text transform="translate(110 701.4) scale(0.9 1)" font-size="8.8" text-anchor="middle">300</text>
<text transform="translate(173.8 701.4) scale(0.9 1)" font-size="8.8" text-anchor="middle">1900</text>
<text transform="translate(252.3 701.4) scale(0.9 1)" font-size="8.8" text-anchor="middle">100</text>
<text transform="translate(294.5 701.4) scale(0.9 1)" font-size="8.8" text-anchor="middle">1675</text>
<text transform="translate(361 701.4) scale(0.9 1)" font-size="8.8" text-anchor="middle">125</text>
<text transform="translate(430.5 701.4) scale(0.9 1)" font-size="8.8" text-anchor="middle">2500</text>
<rect x="509.7" y="694.8" width="13.2" height="7" stroke-width="0.1" stroke="#fff" fill="#fff"/>
<text transform="translate(516.3 701.4) scale(0.9 1)" font-size="8.8" text-anchor="middle">300</text>
<circle cx="144.5" cy="717" r="10.6" stroke-width="0.9" fill="#fff"/>
<circle cx="144.5" cy="717" r="10.6" stroke-width="0.9"/>
<text transform="translate(144.5 720.3) scale(0.8 1)" font-size="8.6" text-anchor="middle">DK19</text>
<path d="M187.8 676L187.8 749"/>
<path d="M202.3 676L202.3 767.3"/>
<path d="M185.6 678.2L190 673.8" stroke-width="1.1"/>
<path d="M185.6 751.2L190 746.8" stroke-width="1.1"/>
<path d="M200.1 678.2L204.5 673.8" stroke-width="1.1"/>
<path d="M200.1 740.2L204.5 735.8" stroke-width="1.1"/>
<path d="M200.1 751.2L204.5 746.8" stroke-width="1.1"/>
<path d="M200.1 769.5L204.5 765.1" stroke-width="1.1"/>
<text transform="translate(184.6 717) rotate(-90) scale(0.9 1)" font-size="8.8" text-anchor="middle">1200</text>
<text transform="translate(200.2 695.3) rotate(-90) scale(0.9 1)" font-size="8.8" text-anchor="middle">650</text>
<text transform="translate(200.2 733) rotate(-90) scale(0.9 1)" font-size="8.8" text-anchor="middle">550</text>
<text transform="translate(154 743.6) scale(0.86 1)" font-size="16.2" text-anchor="middle" class="th">32.05</text>
<text transform="translate(222.5 714.6) scale(0.9 1)" font-size="8.8" text-anchor="middle">700</text>
<text transform="translate(222.5 723.8) scale(0.9 1)" font-size="8.8" text-anchor="middle">2100</text>
<rect x="234.8" y="688.8" width="8.8" height="5.6" fill="#fff"/>
<rect x="237.5" y="738.4" width="5.9" height="5" stroke-width="0.6" fill="#000"/>
<path d="M237.6 694.4L237.6 738.4" stroke-width="0.9" stroke-dasharray="4 1.5 1 1.5 1 1.5"/>
<path d="M243.3 694.4L243.3 738.4" stroke-width="0.9" stroke-dasharray="4 1.5 1 1.5 1 1.5"/>
<path d="M194.5 738L237.5 738" stroke-width="0.9"/>
<path d="M237.5 695A43 43 0 0 0 194.5 738" stroke-width="0.8"/>
<path clip-path="url(#c31)" d="M235 749L240.6 743.4M239 749L244.6 743.4M243 749L248.6 743.4" stroke-width="1"/>
<path d="M237.5 743.4L237.5 749"/>
<path d="M243.3 743.4L243.3 749"/>
<path clip-path="url(#c32)" d="M207 749L212 744M211 749L216 744M215 749L220 744M219 749L224 744M223 749L228 744M227 749L232 744M231 749L236 744M235 749L240 744" stroke-width="1"/>
<rect x="208.5" y="744" width="28.1" height="5"/>
<rect x="213" y="745" width="5" height="3" stroke-width="0.4" fill="#000"/>
<rect x="228" y="745" width="5" height="3" stroke-width="0.4" fill="#000"/>
<circle cx="259.7" cy="716.4" r="10.6" stroke-width="0.9"/>
<path d="M249.1 716.4L270.3 716.4" stroke-width="0.9"/>
<text transform="translate(259.7 714.6) scale(0.8 1)" font-size="8.8" text-anchor="middle">02</text>
<text transform="translate(259.7 725) scale(0.8 1)" font-size="8.8" text-anchor="middle">P</text>
<rect x="246.6" y="607.2" width="24.2" height="73.6"/>
<text transform="translate(305.3 636) scale(0.86 1)" font-size="16.2" text-anchor="middle" class="th">32.01</text>
<circle cx="304.5" cy="683.75" r="10.6" stroke-width="0.9"/>
<path d="M293.9 683.75L315.1 683.75" stroke-width="0.9"/>
<text transform="translate(304.5 681.95) scale(0.8 1)" font-size="8.8" text-anchor="middle">22</text>
<text transform="translate(304.5 692.35) scale(0.8 1)" font-size="8.8" text-anchor="middle">L</text>
<path d="M304.5 694.4L304.5 767.3"/>
<text transform="translate(303.8 727.5) rotate(-90) scale(0.9 1)" font-size="8.8" text-anchor="middle">900</text>
<text transform="translate(311.8 727.5) rotate(-90) scale(0.9 1)" font-size="8.8" text-anchor="middle">2100</text>
<path d="M332.5 694.5L332.5 749" stroke-width="0.9"/>
<path d="M332.5 694.5A55 55 0 0 0 277.5 749" stroke-width="0.8"/>
<circle cx="308.75" cy="565.2" r="10.6" stroke-width="0.9"/>
<path d="M298.15 565.2L319.35 565.2" stroke-width="0.9"/>
<text transform="translate(308.75 563.4) scale(0.8 1)" font-size="8.8" text-anchor="middle">09</text>
<text transform="translate(308.75 573.8) scale(0.8 1)" font-size="8.8" text-anchor="middle">–</text>
<path d="M319 565.2L361 565.2"/>
<text transform="translate(331 563) scale(0.9 1)" font-size="8.8" text-anchor="middle">900</text>
<text transform="translate(331 573.4) scale(0.9 1)" font-size="8.8" text-anchor="middle">2100</text>
<rect x="344.5" y="533" width="12" height="4.6" fill="#fff"/>
<rect x="344.5" y="593.4" width="12" height="4.6" fill="#fff"/>
<path d="M346.3 537.6L346.3 593.4" stroke-width="0.9" stroke-dasharray="7 1.8 1.2 1.8 1.2 1.8"/>
<path d="M353.5 537.6L353.5 593.4" stroke-width="0.9" stroke-dasharray="7 1.8 1.2 1.8 1.2 1.8"/>
<path d="M349.9 537.6L349.9 566" stroke-width="0.9" stroke-dasharray="6 2"/>
<path d="M349.9 566L349.9 590" stroke-width="2.2"/>
<path d="M345.5 598L345.5 655"/>
<path d="M353.2 598L353.2 655"/>
<path d="M347.3 598C347 612 351.5 625 349 640S348 650 347.5 655M351 598C352.5 610 347 626 349.6 640S351 650 351 655" stroke-width="0.8"/>
<path d="M349.4 598L349.4 640" stroke-width="1.6"/>
<path clip-path="url(#c33)" d="M260.05 749L354.05 655M273.05 749L367.05 655M286.05 749L380.05 655M299.05 749L393.05 655M312.05 749L406.05 655M325.05 749L419.05 655M338.05 749L432.05 655M351.05 749L445.05 655" stroke-width="1" stroke="#222"/>
<path clip-path="url(#c34)" d="M261.95 749L355.95 655M274.95 749L368.95 655M287.95 749L381.95 655M300.95 749L394.95 655M313.95 749L407.95 655M326.95 749L420.95 655M339.95 749L433.95 655M352.95 749L446.95 655" stroke-width="1" stroke="#222"/>
<path clip-path="url(#c35)" d="M255 655L349 749M268 655L362 749M281 655L375 749M294 655L388 749M307 655L401 749M320 655L414 749M333 655L427 749M346 655L440 749" stroke-width="0.9" stroke="#3a3a3a"/>
<path d="M345.5 655L345.5 749"/>
<path d="M353.2 655L353.2 749"/>
<circle cx="347.8" cy="668.7" r="1" stroke-width="0.5" fill="#000"/>
<circle cx="347.8" cy="681.7" r="1" stroke-width="0.5" fill="#000"/>
<circle cx="347.8" cy="694.7" r="1" stroke-width="0.5" fill="#000"/>
<circle cx="347.8" cy="707.7" r="1" stroke-width="0.5" fill="#000"/>
<circle cx="347.8" cy="720.7" r="1" stroke-width="0.5" fill="#000"/>
<circle cx="347.8" cy="733.7" r="1" stroke-width="0.5" fill="#000"/>
<text transform="translate(341.6 655) rotate(-90)" font-size="8.6" textLength="81" lengthAdjust="spacingAndGlyphs" style="stroke:#000;stroke-width:.12px">1xHE 100 B–d.2300</text>
<path d="M353.2 606L390.5 606"/>
<path d="M353.2 642.6L390.5 642.6"/>
<path d="M391 526.25L391 706.4"/>
<path d="M372.3 618.8L372.3 631.2"/>
<path d="M366.8 621.8L377.8 628.2"/>
<path d="M366.8 628.2L377.8 621.8"/>
<path d="M353.5 678.3L390.5 678.3" stroke-dasharray="8.5 3"/>
<path d="M353.5 707.2L382.5 707.2" stroke-dasharray="8.5 3"/>
<path d="M401.25 525.8L401.25 749"/>
<path d="M390.5 525.8L405 525.8"/>
<path d="M399.05 528L403.45 523.6" stroke-width="1.1"/>
<path d="M399.05 751.2L403.45 746.8" stroke-width="1.1"/>
<text transform="translate(400.2 637.5) rotate(-90) scale(0.9 1)" font-size="8.8" text-anchor="middle">3650</text>
<path d="M382.5 707.2L464.1 707.2"/>
<rect x="381" y="712.2" width="44.2" height="31.7" rx="3"/>
<rect x="394.7" y="716.5" width="25.8" height="22.7" rx="3"/>
<path d="M384 719L393.6 719" stroke-width="0.8"/>
<path d="M384 722.12L393.6 722.12" stroke-width="0.8"/>
<path d="M384 725.24L393.6 725.24" stroke-width="0.8"/>
<path d="M384 728.36L393.6 728.36" stroke-width="0.8"/>
<path d="M384 731.48L393.6 731.48" stroke-width="0.8"/>
<path d="M384 734.6L393.6 734.6" stroke-width="0.8"/>
<path d="M384 737.72L393.6 737.72" stroke-width="0.8"/>
<circle cx="399" cy="734.2" r="1.1" stroke-width="0.6"/>
<path d="M386 716.4L420 716.4" stroke-width="1.5" stroke-dasharray="8 3 2 3"/>
<rect x="427" y="707.9" width="36.9" height="35.4"/>
<path d="M427 707.9L463.9 743.3" stroke-width="0.8"/>
<path d="M427 743.3L463.9 707.9" stroke-width="0.8"/>
<circle cx="446" cy="725" r="8.8" stroke-width="1.2" stroke="#777" fill="#fff"/>
<circle cx="446" cy="725" r="4.3" stroke-width="0.5" fill="#111"/>
<path d="M464.1 636.6L464.1 749"/>
<path d="M452.4 596.4L452.4 749"/>
<path d="M450.2 599.1L454.6 594.7" stroke-width="1.1"/>
<path d="M450.2 638.8L454.6 634.4" stroke-width="1.1"/>
<path d="M450.2 751.2L454.6 746.8" stroke-width="1.1"/>
<path d="M450 596.9L459 596.9"/>
<path d="M450 636.6L459 636.6"/>
<text transform="translate(451 617) rotate(-90) scale(0.9 1)" font-size="8.8" text-anchor="middle">650</text>
<text transform="translate(451 684) rotate(-90) scale(0.9 1)" font-size="8.8" text-anchor="middle">1840</text>
<path clip-path="url(#c36)" d="M425.8 636.6L465.5 596.9M429 636.6L468.7 596.9M432.2 636.6L471.9 596.9M435.4 636.6L475.1 596.9M438.6 636.6L478.3 596.9M441.8 636.6L481.5 596.9M445 636.6L484.7 596.9M448.2 636.6L487.9 596.9M451.4 636.6L491.1 596.9M454.6 636.6L494.3 596.9M457.8 636.6L497.5 596.9M461 636.6L500.7 596.9M464.2 636.6L503.9 596.9M467.4 636.6L507.1 596.9M470.6 636.6L510.3 596.9M473.8 636.6L513.5 596.9M477 636.6L516.7 596.9M480.2 636.6L519.9 596.9M483.4 636.6L523.1 596.9M486.6 636.6L526.3 596.9M489.8 636.6L529.5 596.9M493 636.6L532.7 596.9M496.2 636.6L535.9 596.9M499.4 636.6L539.1 596.9M502.6 636.6L542.3 596.9M505.8 636.6L545.5 596.9" stroke-width="0.95"/>
<path clip-path="url(#c37)" d="M427.3 596.9L467 636.6M430.5 596.9L470.2 636.6M433.7 596.9L473.4 636.6M436.9 596.9L476.6 636.6M440.1 596.9L479.8 636.6M443.3 596.9L483 636.6M446.5 596.9L486.2 636.6M449.7 596.9L489.4 636.6M452.9 596.9L492.6 636.6M456.1 596.9L495.8 636.6M459.3 596.9L499 636.6M462.5 596.9L502.2 636.6M465.7 596.9L505.4 636.6M468.9 596.9L508.6 636.6M472.1 596.9L511.8 636.6M475.3 596.9L515 636.6M478.5 596.9L518.2 636.6M481.7 596.9L521.4 636.6M484.9 596.9L524.6 636.6M488.1 596.9L527.8 636.6M491.3 596.9L531 636.6M494.5 596.9L534.2 636.6M497.7 596.9L537.4 636.6M500.9 596.9L540.6 636.6M504.1 596.9L543.8 636.6M507.3 596.9L547 636.6" stroke-width="0.95"/>
<path d="M464.1 596.9L507.4 596.9L507.4 606.7L473.9 606.7L473.9 627.1L507.4 627.1L507.4 636.6L464.1 636.6Z" stroke-width="1.1"/>
<path d="M473.9 627.1L473.9 606.7L496.3 606.7" stroke-width="1.8"/>
<path d="M476.6 608.2L474.6 626" stroke-width="1.2"/>
<path d="M496.3 606.7L496.3 627.1" stroke-width="1.3"/>
<text transform="translate(494.2 588.4) rotate(-90) scale(0.9 1)" font-size="8.8" text-anchor="middle">150</text>
<text transform="translate(494.2 616.5) rotate(-90) scale(0.9 1)" font-size="8.8" text-anchor="middle">350</text>
<text transform="translate(494.2 646) rotate(-90) scale(0.9 1)" font-size="8.8" text-anchor="middle">150</text>
<path d="M462.7 578.5L507.5 578.5"/>
<path d="M460.5 580.7L464.9 576.3" stroke-width="1.1"/>
<path d="M470.3 580.7L474.7 576.3" stroke-width="1.1"/>
<path d="M505.3 580.7L509.7 576.3" stroke-width="1.1"/>
<path d="M462.7 578.5L462.7 592"/>
<path d="M472.5 578.5L472.5 592"/>
<text transform="translate(468.5 576.6) scale(0.9 1)" font-size="8.8" text-anchor="middle">150</text>
<text transform="translate(490.4 576.6) scale(0.9 1)" font-size="8.8" text-anchor="middle">550</text>
<rect x="464.1" y="642.5" width="37" height="37.3"/>
<circle cx="474.6" cy="653" r="6.4" stroke-width="0.9"/>
<circle cx="493" cy="652" r="4.6" stroke-width="0.9"/>
<circle cx="472.5" cy="671.3" r="4.7" stroke-width="0.9"/>
<circle cx="491.2" cy="669.5" r="6.6" stroke-width="0.9"/>
<rect x="418.25" y="473.7" width="86.25" height="48.8"/>
<path d="M429.8 454.4Q443 448.4 456.2 454.4L455.6 456.4Q443 451 430.4 456.4Z" stroke-width="1.1"/>
<path d="M432.4 456.2Q429.4 467.6 431.4 477Q443 481 454.6 477Q456.6 467.6 453.6 456.2"/>
<path d="M432.4 457.2Q443 453.2 453.6 457.2" stroke-width="0.8"/>
<path d="M466.1 454.4Q479.3 448.4 492.5 454.4L491.9 456.4Q479.3 451 466.7 456.4Z" stroke-width="1.1"/>
<path d="M468.7 456.2Q465.7 467.6 467.7 477Q479.3 481 490.9 477Q492.9 467.6 489.9 456.2"/>
<path d="M468.7 457.2Q479.3 453.2 489.9 457.2" stroke-width="0.8"/>
<path d="M429.8 542.8Q443 548.8 456.2 542.8L455.6 540.8Q443 546.2 430.4 540.8Z" stroke-width="1.1"/>
<path d="M432.4 541Q429.4 529.6 431.4 520.2Q443 516.2 454.6 520.2Q456.6 529.6 453.6 541"/>
<path d="M432.4 540Q443 544 453.6 540" stroke-width="0.8"/>
<path d="M466.1 542.8Q479.3 548.8 492.5 542.8L491.9 540.8Q479.3 546.2 466.7 540.8Z" stroke-width="1.1"/>
<path d="M468.7 541Q465.7 529.6 467.7 520.2Q479.3 516.2 490.9 520.2Q492.9 529.6 489.9 541"/>
<path d="M468.7 540Q479.3 544 489.9 540" stroke-width="0.8"/>
<path d="M277.2 749.4L277.2 767.3" stroke-width="0.9"/>
<path d="M332 749.4L332 767.3" stroke-width="0.9"/>
<path d="M274 749.4L336 749.4" stroke-width="0.9" stroke-dasharray="6 1.6 1.2 1.6 1.2 1.6"/>
<path d="M274 767.3L336 767.3" stroke-width="0.9" stroke-dasharray="6 1.6 1.2 1.6 1.2 1.6"/>
<path d="M279.4 752.15L300.4 757.15" stroke-width="0.9" stroke-dasharray="7 2.5"/>
<path d="M279.4 764.55L300.4 759.55" stroke-width="0.9" stroke-dasharray="7 2.5"/>
<path d="M329.4 752.15L308.4 757.15" stroke-width="0.9" stroke-dasharray="7 2.5"/>
<path d="M329.4 764.55L308.4 759.55" stroke-width="0.9" stroke-dasharray="7 2.5"/>
<path d="M300 758.35L309 758.35" stroke-width="1.6"/>
<path d="M277.2 859.5L277.2 879" stroke-width="0.9"/>
<path d="M332 859.5L332 879" stroke-width="0.9"/>
<path d="M274 859.5L336 859.5" stroke-width="0.9" stroke-dasharray="6 1.6 1.2 1.6 1.2 1.6"/>
<path d="M274 879L336 879" stroke-width="0.9" stroke-dasharray="6 1.6 1.2 1.6 1.2 1.6"/>
<path d="M279.4 863.05L300.4 868.05" stroke-width="0.9" stroke-dasharray="7 2.5"/>
<path d="M279.4 875.45L300.4 870.45" stroke-width="0.9" stroke-dasharray="7 2.5"/>
<path d="M329.4 863.05L308.4 868.05" stroke-width="0.9" stroke-dasharray="7 2.5"/>
<path d="M329.4 875.45L308.4 870.45" stroke-width="0.9" stroke-dasharray="7 2.5"/>
<path d="M300 869.25L309 869.25" stroke-width="1.6"/>
<path d="M304.4 736L304.4 771"/>
<path d="M304.4 852L304.4 889"/>
<text x="255.6" y="746.8" font-size="9.2" textLength="72.8" lengthAdjust="spacingAndGlyphs">4 x PTH KP 7/125</text>
<text x="271" y="888" font-size="9.2" textLength="72.8" lengthAdjust="spacingAndGlyphs">4 x PTH KP 7/125</text>
<path d="M82 787.5L507.5 787.5"/>
<path d="M271.4 789.7L275.8 785.3" stroke-width="1.1"/>
<path d="M333.5 789.7L337.9 785.3" stroke-width="1.1"/>
<path d="M351 789.7L355.4 785.3" stroke-width="1.1"/>
<path d="M505.3 789.7L509.7 785.3" stroke-width="1.1"/>
<path d="M273.6 774.5L273.6 790"/>
<path d="M335.7 774.5L335.7 790"/>
<text transform="translate(105 785.2) scale(0.9 1)" font-size="8.8" text-anchor="middle">5500</text>
<text transform="translate(304.8 785.2) scale(0.9 1)" font-size="8.8" text-anchor="middle">1000</text>
<text transform="translate(304.8 795.6) scale(0.9 1)" font-size="8.8" text-anchor="middle">2150</text>
<text transform="translate(421.3 785.2) scale(0.9 1)" font-size="8.8" text-anchor="middle">2800</text>
<path d="M95 842.9L507.5 842.9"/>
<path d="M99.55 845.1L103.95 840.7" stroke-width="1.1"/>
<path d="M271.4 845.1L275.8 840.7" stroke-width="1.1"/>
<path d="M333.5 845.1L337.9 840.7" stroke-width="1.1"/>
<path d="M345 845.1L349.4 840.7" stroke-width="1.1"/>
<path d="M351 845.1L355.4 840.7" stroke-width="1.1"/>
<path d="M505.3 845.1L509.7 840.7" stroke-width="1.1"/>
<path d="M101.75 840L101.75 854"/>
<path d="M273.6 840L273.6 856"/>
<path d="M335.7 840L335.7 856"/>
<text transform="translate(187.5 840.6) scale(0.9 1)" font-size="8.8" text-anchor="middle">2800</text>
<text transform="translate(304.8 840.6) scale(0.9 1)" font-size="8.8" text-anchor="middle">1000</text>
<text transform="translate(304.8 851) scale(0.9 1)" font-size="8.8" text-anchor="middle">2150</text>
<text transform="translate(341 840.6) scale(0.9 1)" font-size="8.8" text-anchor="middle">200</text>
<text transform="translate(362.6 840.6) scale(0.9 1)" font-size="8.8" text-anchor="middle">100</text>
<text transform="translate(430.8 840.6) scale(0.9 1)" font-size="8.8" text-anchor="middle">2500</text>
<path clip-path="url(#c38)" d="M348.05 778L358.75 767.3" stroke-width="1" stroke="#222"/>
<path clip-path="url(#c39)" d="M336.95 778L347.65 767.3M349.95 778L360.65 767.3" stroke-width="1" stroke="#222"/>
<path clip-path="url(#c40)" d="M341.3 767.3L352 778" stroke-width="0.9" stroke="#3a3a3a"/>
<path d="M347.2 767.3L347.2 778"/>
<path d="M353.2 767.3L353.2 778"/>
<path clip-path="url(#c41)" d="M318.55 859.5L357.65 820.4M331.55 859.5L370.65 820.4M344.55 859.5L383.65 820.4" stroke-width="1" stroke="#222"/>
<path clip-path="url(#c42)" d="M320.45 859.5L359.55 820.4M333.45 859.5L372.55 820.4M346.45 859.5L385.55 820.4" stroke-width="1" stroke="#222"/>
<path clip-path="url(#c43)" d="M316.4 820.4L355.5 859.5M329.4 820.4L368.5 859.5M342.4 820.4L381.5 859.5" stroke-width="0.9" stroke="#3a3a3a"/>
<path d="M347.2 820.4L347.2 859.5"/>
<path d="M353.2 820.4L353.2 859.5"/>
<path d="M347.2 778L385 778"/>
<path d="M347.2 820.4L353.2 820.4"/>
<path d="M347.4 778L347.4 820.4" stroke-width="0.9" stroke-dasharray="5 1.6 1 1.6 1 1.6"/>
<path d="M353 778L353 820.4" stroke-width="0.9" stroke-dasharray="5 1.6 1 1.6 1 1.6"/>
<path d="M353.2 778L395.6 778" stroke-width="0.9"/>
<path d="M395.6 778A42.4 42.4 0 0 1 353.2 820.4" stroke-width="0.8"/>
<path d="M335.4 798.4L378 798.4"/>
<text transform="translate(368.8 797) scale(0.9 1)" font-size="8.8" text-anchor="middle">700</text>
<text transform="translate(368.8 806.6) scale(0.9 1)" font-size="8.8" text-anchor="middle">2100</text>
<circle cx="410" cy="798.5" r="10.6" stroke-width="0.9"/>
<path d="M399.4 798.5L420.6 798.5" stroke-width="0.9"/>
<text transform="translate(410 796.7) scale(0.8 1)" font-size="8.8" text-anchor="middle">14</text>
<text transform="translate(410 807.1) scale(0.8 1)" font-size="8.8" text-anchor="middle">P</text>
<text transform="translate(465.6 809.3) scale(0.86 1)" font-size="16.2" text-anchor="middle" class="th">3.14</text>
<rect x="193.6" y="751.8" width="7" height="13.2" stroke-width="0.1" stroke="#fff" fill="#fff"/>
<text transform="translate(200.2 758.4) rotate(-90) scale(0.9 1)" font-size="8.8" text-anchor="middle">300</text>
<rect x="221.6" y="750.4" width="7" height="13.2" stroke-width="0.1" stroke="#fff" fill="#fff"/>
<text transform="translate(228.2 757) rotate(-90) scale(0.9 1)" font-size="8.8" text-anchor="middle">100</text>
<rect x="172.4" y="863.4" width="7" height="13.2" stroke-width="0.1" stroke="#fff" fill="#fff"/>
<text transform="translate(179 870) rotate(-90) scale(0.9 1)" font-size="8.8" text-anchor="middle">100</text>
<rect x="230.8" y="862.4" width="7" height="13.2" stroke-width="0.1" stroke="#fff" fill="#fff"/>
<text transform="translate(237.4 869) rotate(-90) scale(0.9 1)" font-size="8.8" text-anchor="middle">300</text>
<rect x="478.4" y="863.4" width="7" height="13.2" stroke-width="0.1" stroke="#fff" fill="#fff"/>
<text transform="translate(485 870) rotate(-90) scale(0.9 1)" font-size="8.8" text-anchor="middle">100</text>
<path d="M92 887.8L265 887.8" stroke-width="2"/>
<rect x="122" y="881" width="21.5" height="11"/>
<rect x="128" y="884" width="9" height="8" stroke-width="0.8"/>
<path d="M146 884L262 884" stroke-width="1.2"/>
<rect x="170" y="885.5" width="45" height="6.5" stroke-width="1.2"/>
<path clip-path="url(#c44)" d="M347.9 883.6L352.5 879M354.15 883.6L358.75 879M360.4 883.6L365 879M366.65 883.6L371.25 879M372.9 883.6L377.5 879M379.15 883.6L383.75 879M385.4 883.6L390 879M391.65 883.6L396.25 879M397.9 883.6L402.5 879M404.15 883.6L408.75 879M410.4 883.6L415 879M416.65 883.6L421.25 879M422.9 883.6L427.5 879M429.15 883.6L433.75 879M435.4 883.6L440 879M441.65 883.6L446.25 879M447.9 883.6L452.5 879M454.15 883.6L458.75 879M460.4 883.6L465 879M466.65 883.6L471.25 879M472.9 883.6L477.5 879M479.15 883.6L483.75 879M485.4 883.6L490 879M491.65 883.6L496.25 879M497.9 883.6L502.5 879M504.15 883.6L508.75 879" stroke-width="1.7" stroke="#3a3a3a"/>
<path d="M347.2 883.6L507.5 883.6"/>
<rect x="353" y="885.4" width="152" height="6.6"/>
<path d="M348 888L640 888" stroke-width="1.2"/>
<circle cx="360.27" cy="880.6" r="0.9" stroke-width="0.4" fill="#000"/>
<circle cx="366.52" cy="880.6" r="0.9" stroke-width="0.4" fill="#000"/>
<circle cx="372.77" cy="880.6" r="0.9" stroke-width="0.4" fill="#000"/>
<circle cx="379.02" cy="880.6" r="0.9" stroke-width="0.4" fill="#000"/>
<circle cx="385.27" cy="880.6" r="0.9" stroke-width="0.4" fill="#000"/>
<circle cx="391.52" cy="880.6" r="0.9" stroke-width="0.4" fill="#000"/>
<circle cx="397.77" cy="880.6" r="0.9" stroke-width="0.4" fill="#000"/>
<circle cx="404.02" cy="880.6" r="0.9" stroke-width="0.4" fill="#000"/>
<circle cx="410.27" cy="880.6" r="0.9" stroke-width="0.4" fill="#000"/>
<circle cx="416.52" cy="880.6" r="0.9" stroke-width="0.4" fill="#000"/>
<circle cx="422.77" cy="880.6" r="0.9" stroke-width="0.4" fill="#000"/>
<circle cx="429.02" cy="880.6" r="0.9" stroke-width="0.4" fill="#000"/>
<circle cx="435.27" cy="880.6" r="0.9" stroke-width="0.4" fill="#000"/>
<circle cx="441.52" cy="880.6" r="0.9" stroke-width="0.4" fill="#000"/>
<circle cx="447.77" cy="880.6" r="0.9" stroke-width="0.4" fill="#000"/>
<circle cx="454.02" cy="880.6" r="0.9" stroke-width="0.4" fill="#000"/>
<circle cx="460.27" cy="880.6" r="0.9" stroke-width="0.4" fill="#000"/>
<circle cx="466.52" cy="880.6" r="0.9" stroke-width="0.4" fill="#000"/>
<circle cx="472.77" cy="880.6" r="0.9" stroke-width="0.4" fill="#000"/>
<circle cx="479.02" cy="880.6" r="0.9" stroke-width="0.4" fill="#000"/>
<circle cx="485.27" cy="880.6" r="0.9" stroke-width="0.4" fill="#000"/>
<circle cx="491.52" cy="880.6" r="0.9" stroke-width="0.4" fill="#000"/>
<circle cx="497.77" cy="880.6" r="0.9" stroke-width="0.4" fill="#000"/>
<circle cx="504.02" cy="880.6" r="0.9" stroke-width="0.4" fill="#000"/>
<path d="M90 473L98 473L98 522.5L90 522.5"/>
<path d="M90.5 231.6L97 231.6" stroke-width="2" stroke="#b0b0b0"/>
<path d="M96.5 231.2Q99 231.5 99 234.5V296" stroke-width="0.8" stroke="#666"/>
<rect x="94" y="596" width="7" height="11.5" stroke-width="0.8"/>
<path d="M94 596L101 607.5" stroke-width="0.8"/>
<path d="M94 607.5L101 596" stroke-width="0.8"/>
<rect x="94" y="627.5" width="7" height="8.5" stroke-width="0.8"/>
<path d="M94 627.5L101 636" stroke-width="0.8"/>
<path d="M94 636L101 627.5" stroke-width="0.8"/>
<path d="M95 641L95 680"/>
<path d="M96 578.75L102 578.75"/>
<path d="M96 580.25L99 577.25" stroke-width="1.1"/></g></svg></body></html>
